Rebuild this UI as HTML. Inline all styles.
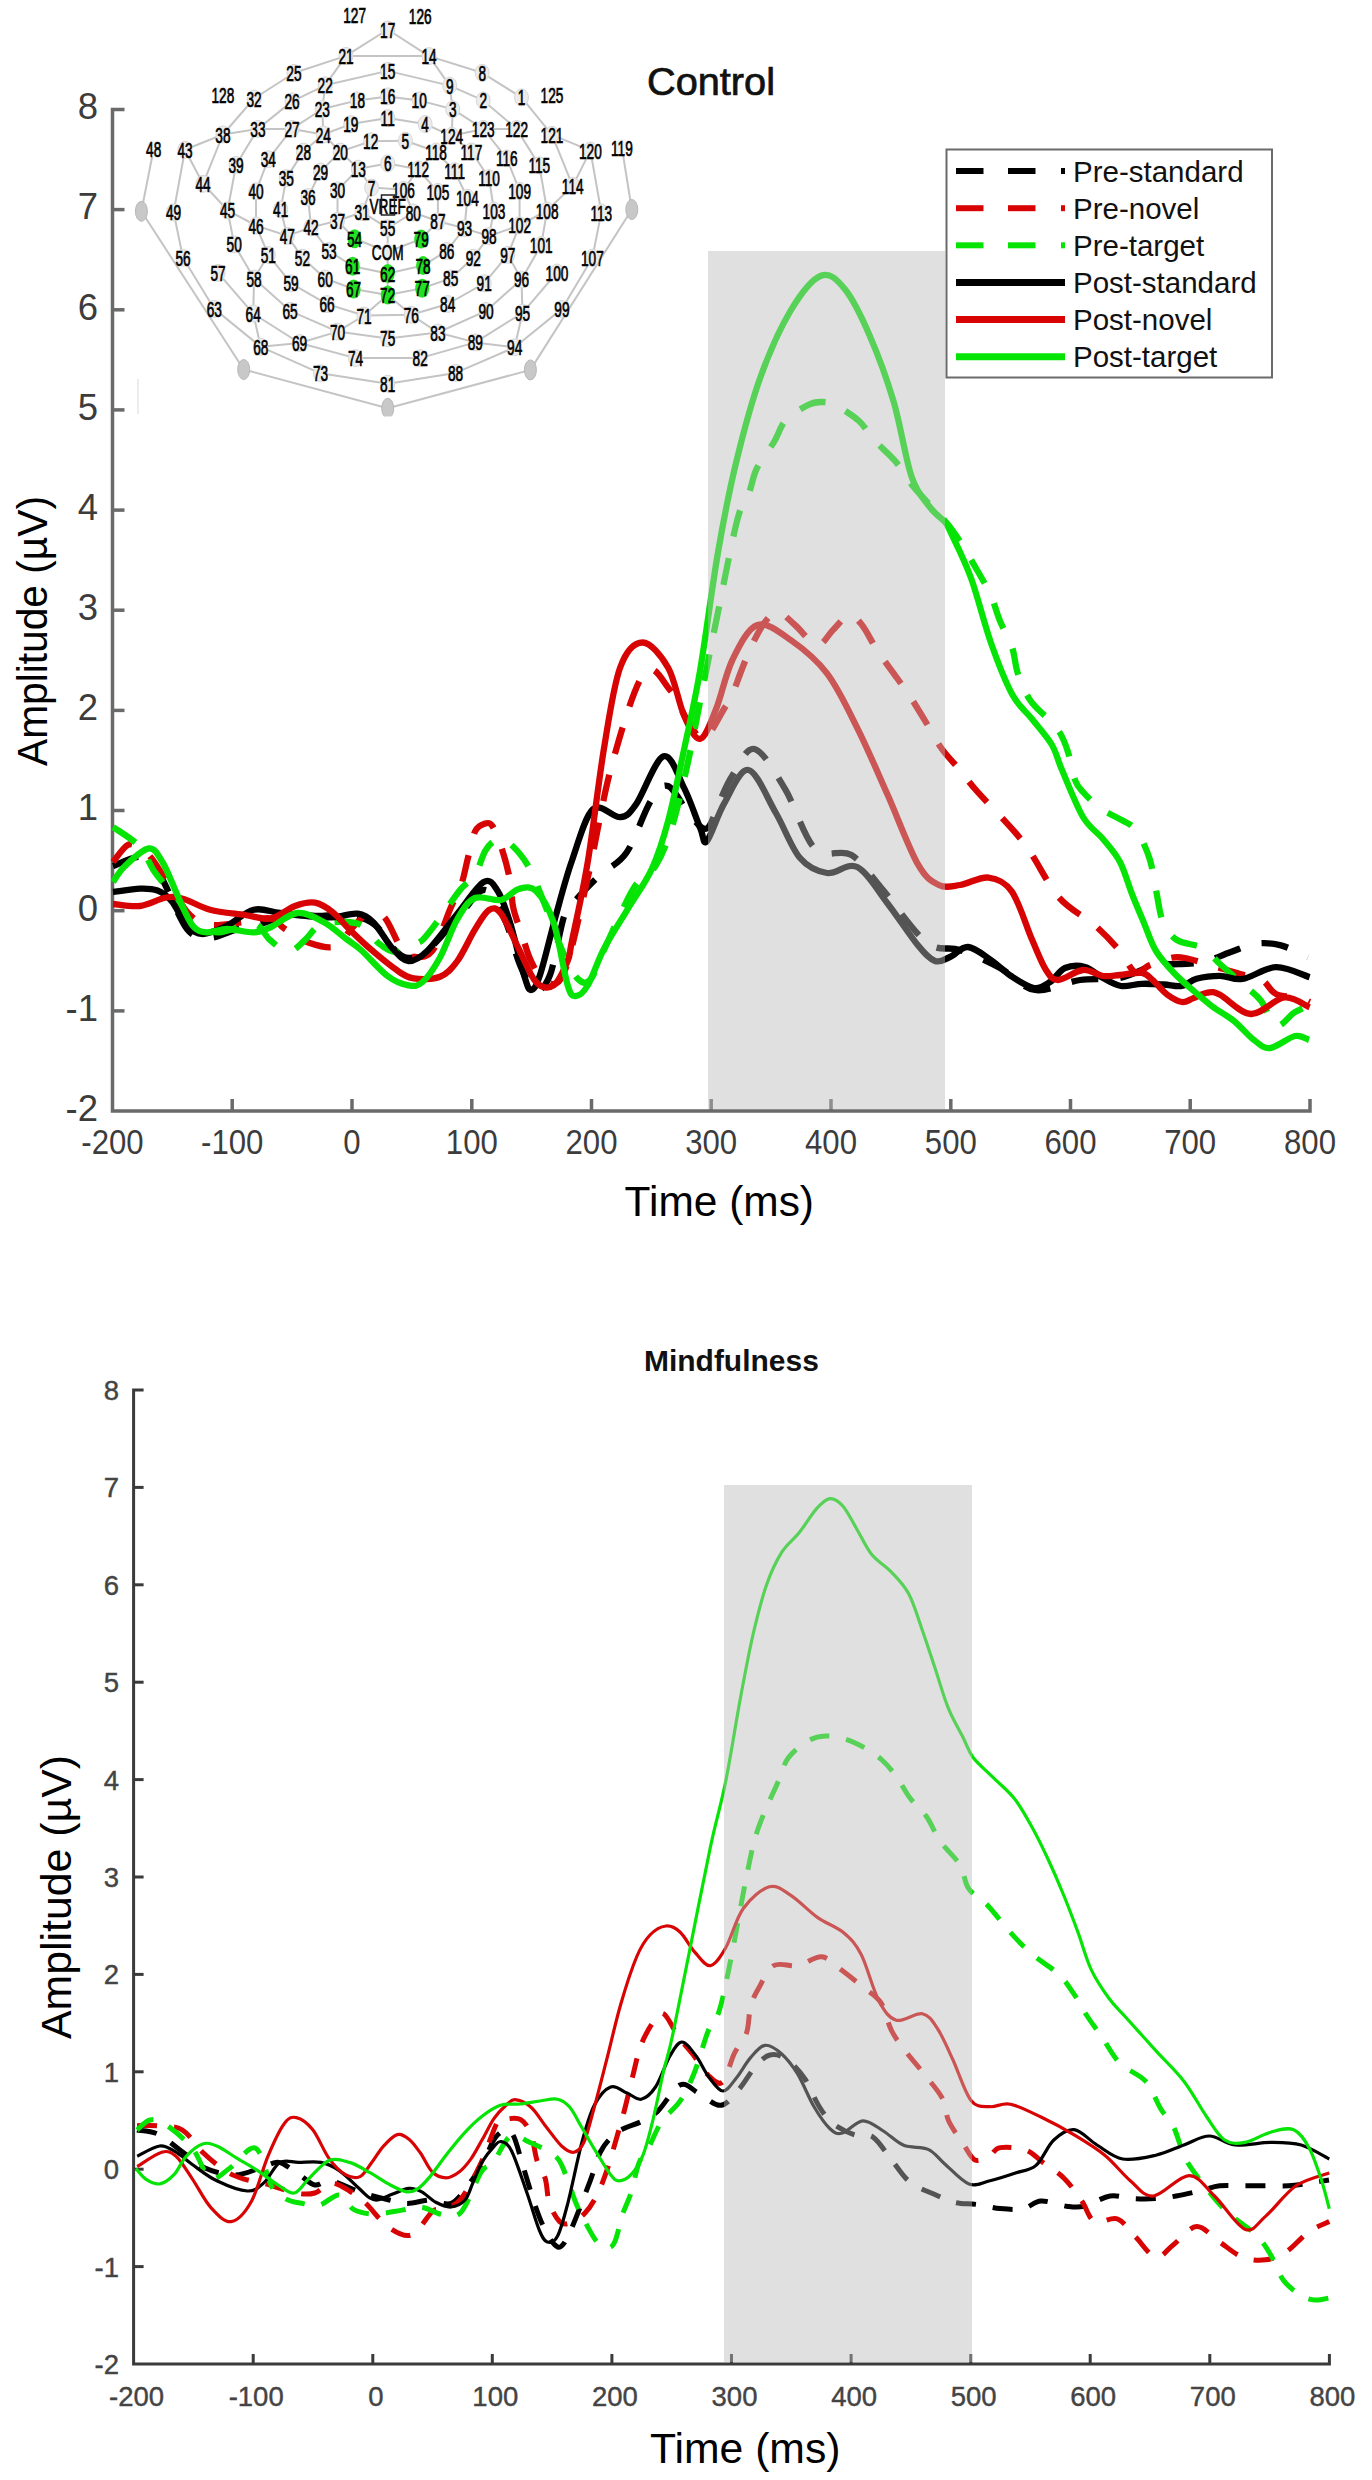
<!DOCTYPE html><html><head><meta charset="utf-8"><style>html,body{margin:0;padding:0;background:#fff;}svg{display:block;}</style></head><body>
<svg width="1372" height="2480" viewBox="0 0 1372 2480">
<rect width="100%" height="100%" fill="#fff"/>
<g stroke="#c4c4c4" stroke-width="2" fill="none">
<line x1="153.7" y1="148.8" x2="141.4" y2="211.3"/>
<line x1="141.4" y1="211.3" x2="243.7" y2="369.5"/>
<line x1="243.7" y1="369.5" x2="387.7" y2="408.3"/>
<line x1="387.7" y1="408.3" x2="530.4" y2="369.9"/>
<line x1="530.4" y1="369.9" x2="631.8" y2="209.5"/>
<line x1="631.8" y1="209.5" x2="621.9" y2="147.6"/>
<line x1="590.4" y1="150.6" x2="552.0" y2="134.8"/>
<line x1="552.0" y1="134.8" x2="521.5" y2="97.4"/>
<line x1="521.5" y1="97.4" x2="482.2" y2="72.8"/>
<line x1="482.2" y1="72.8" x2="429.0" y2="56.1"/>
<line x1="429.0" y1="56.1" x2="387.7" y2="29.5"/>
<line x1="387.7" y1="29.5" x2="346.0" y2="55.9"/>
<line x1="346.0" y1="55.9" x2="293.9" y2="73.0"/>
<line x1="293.9" y1="73.0" x2="254.1" y2="98.5"/>
<line x1="254.1" y1="98.5" x2="222.9" y2="134.5"/>
<line x1="222.9" y1="134.5" x2="185.0" y2="149.7"/>
<line x1="185.0" y1="149.7" x2="173.6" y2="212.2"/>
<line x1="173.6" y1="212.2" x2="183.0" y2="257.7"/>
<line x1="183.0" y1="257.7" x2="214.3" y2="308.9"/>
<line x1="214.3" y1="308.9" x2="260.8" y2="346.8"/>
<line x1="260.8" y1="346.8" x2="320.5" y2="373.3"/>
<line x1="320.5" y1="373.3" x2="387.7" y2="383.7"/>
<line x1="387.7" y1="383.7" x2="455.6" y2="372.9"/>
<line x1="455.6" y1="372.9" x2="514.7" y2="347.3"/>
<line x1="514.7" y1="347.3" x2="561.9" y2="308.9"/>
<line x1="561.9" y1="308.9" x2="592.4" y2="257.7"/>
<line x1="592.4" y1="257.7" x2="601.3" y2="212.5"/>
<line x1="601.3" y1="212.5" x2="590.4" y2="150.6"/>
<line x1="387.7" y1="70.9" x2="325.2" y2="85.3"/>
<line x1="325.2" y1="85.3" x2="292.0" y2="101.4"/>
<line x1="292.0" y1="101.4" x2="257.9" y2="128.9"/>
<line x1="257.9" y1="128.9" x2="236.1" y2="164.9"/>
<line x1="236.1" y1="164.9" x2="227.6" y2="210.3"/>
<line x1="227.6" y1="210.3" x2="234.2" y2="244.4"/>
<line x1="234.2" y1="244.4" x2="254.1" y2="278.5"/>
<line x1="254.1" y1="278.5" x2="290.1" y2="310.8"/>
<line x1="290.1" y1="310.8" x2="337.5" y2="331.6"/>
<line x1="337.5" y1="331.6" x2="387.7" y2="338.4"/>
<line x1="387.7" y1="338.4" x2="437.9" y2="332.5"/>
<line x1="437.9" y1="332.5" x2="486.1" y2="310.9"/>
<line x1="486.1" y1="310.9" x2="521.5" y2="279.4"/>
<line x1="521.5" y1="279.4" x2="541.2" y2="245.0"/>
<line x1="541.2" y1="245.0" x2="547.1" y2="210.5"/>
<line x1="547.1" y1="210.5" x2="539.3" y2="165.3"/>
<line x1="539.3" y1="165.3" x2="516.6" y2="128.9"/>
<line x1="516.6" y1="128.9" x2="483.2" y2="100.4"/>
<line x1="483.2" y1="100.4" x2="449.7" y2="85.6"/>
<line x1="449.7" y1="85.6" x2="387.7" y2="70.9"/>
<line x1="387.7" y1="96.4" x2="357.4" y2="100.4"/>
<line x1="357.4" y1="100.4" x2="322.3" y2="109.0"/>
<line x1="322.3" y1="109.0" x2="292.0" y2="128.9"/>
<line x1="292.0" y1="128.9" x2="268.3" y2="159.2"/>
<line x1="268.3" y1="159.2" x2="256.0" y2="191.4"/>
<line x1="256.0" y1="191.4" x2="256.0" y2="225.5"/>
<line x1="256.0" y1="225.5" x2="268.3" y2="254.9"/>
<line x1="268.3" y1="254.9" x2="291.0" y2="283.3"/>
<line x1="291.0" y1="283.3" x2="327.1" y2="304.1"/>
<line x1="327.1" y1="304.1" x2="364.0" y2="315.5"/>
<line x1="364.0" y1="315.5" x2="411.3" y2="314.8"/>
<line x1="411.3" y1="314.8" x2="447.7" y2="304.0"/>
<line x1="447.7" y1="304.0" x2="484.2" y2="283.3"/>
<line x1="484.2" y1="283.3" x2="507.8" y2="254.8"/>
<line x1="507.8" y1="254.8" x2="519.6" y2="225.3"/>
<line x1="519.6" y1="225.3" x2="519.6" y2="190.8"/>
<line x1="519.6" y1="190.8" x2="506.8" y2="158.4"/>
<line x1="506.8" y1="158.4" x2="483.2" y2="128.9"/>
<line x1="483.2" y1="128.9" x2="452.7" y2="109.2"/>
<line x1="452.7" y1="109.2" x2="419.2" y2="100.4"/>
<line x1="419.2" y1="100.4" x2="387.7" y2="96.4"/>
<line x1="387.7" y1="118.1" x2="350.8" y2="124.1"/>
<line x1="350.8" y1="124.1" x2="323.3" y2="134.5"/>
<line x1="323.3" y1="134.5" x2="303.4" y2="151.6"/>
<line x1="303.4" y1="151.6" x2="286.3" y2="178.1"/>
<line x1="286.3" y1="178.1" x2="280.7" y2="209.4"/>
<line x1="280.7" y1="209.4" x2="287.3" y2="235.9"/>
<line x1="287.3" y1="235.9" x2="302.4" y2="257.7"/>
<line x1="302.4" y1="257.7" x2="325.2" y2="278.5"/>
<line x1="325.2" y1="278.5" x2="353.6" y2="289.0"/>
<line x1="353.6" y1="289.0" x2="387.7" y2="295.1"/>
<line x1="387.7" y1="295.1" x2="422.2" y2="288.2"/>
<line x1="422.2" y1="288.2" x2="450.7" y2="278.4"/>
<line x1="450.7" y1="278.4" x2="473.3" y2="257.7"/>
<line x1="473.3" y1="257.7" x2="489.0" y2="236.1"/>
<line x1="489.0" y1="236.1" x2="494.0" y2="210.5"/>
<line x1="494.0" y1="210.5" x2="489.0" y2="178.1"/>
<line x1="489.0" y1="178.1" x2="471.4" y2="151.5"/>
<line x1="471.4" y1="151.5" x2="451.7" y2="135.8"/>
<line x1="451.7" y1="135.8" x2="425.1" y2="124.0"/>
<line x1="425.1" y1="124.0" x2="387.7" y2="118.1"/>
<line x1="370.7" y1="141.2" x2="340.3" y2="151.6"/>
<line x1="340.3" y1="151.6" x2="320.5" y2="171.5"/>
<line x1="320.5" y1="171.5" x2="308.1" y2="197.1"/>
<line x1="308.1" y1="197.1" x2="311.0" y2="227.4"/>
<line x1="311.0" y1="227.4" x2="329.0" y2="251.0"/>
<line x1="329.0" y1="251.0" x2="352.7" y2="266.2"/>
<line x1="352.7" y1="266.2" x2="387.7" y2="273.5"/>
<line x1="387.7" y1="273.5" x2="423.1" y2="265.6"/>
<line x1="423.1" y1="265.6" x2="446.8" y2="250.9"/>
<line x1="446.8" y1="250.9" x2="464.5" y2="228.2"/>
<line x1="464.5" y1="228.2" x2="467.4" y2="197.7"/>
<line x1="467.4" y1="197.7" x2="454.6" y2="171.2"/>
<line x1="454.6" y1="171.2" x2="436.0" y2="151.5"/>
<line x1="436.0" y1="151.5" x2="405.4" y2="140.7"/>
<line x1="405.4" y1="140.7" x2="370.7" y2="141.2"/>
<line x1="387.7" y1="163.4" x2="358.3" y2="168.7"/>
<line x1="358.3" y1="168.7" x2="337.5" y2="190.4"/>
<line x1="337.5" y1="190.4" x2="337.5" y2="220.7"/>
<line x1="337.5" y1="220.7" x2="354.6" y2="238.7"/>
<line x1="354.6" y1="238.7" x2="387.7" y2="251.8"/>
<line x1="387.7" y1="251.8" x2="421.2" y2="239.0"/>
<line x1="421.2" y1="239.0" x2="437.9" y2="221.3"/>
<line x1="437.9" y1="221.3" x2="437.9" y2="191.8"/>
<line x1="437.9" y1="191.8" x2="418.2" y2="169.3"/>
<line x1="418.2" y1="169.3" x2="387.7" y2="163.4"/>
<line x1="371.6" y1="187.6" x2="362.1" y2="212.2"/>
<line x1="362.1" y1="212.2" x2="387.7" y2="228.2"/>
<line x1="387.7" y1="228.2" x2="413.3" y2="212.5"/>
<line x1="413.3" y1="212.5" x2="403.5" y2="189.8"/>
<line x1="403.5" y1="189.8" x2="371.6" y2="187.6"/>
<line x1="346.0" y1="55.9" x2="429.0" y2="56.1"/>
<line x1="346.0" y1="55.9" x2="325.2" y2="85.3"/>
<line x1="325.2" y1="85.3" x2="322.3" y2="109.0"/>
<line x1="322.3" y1="109.0" x2="323.3" y2="134.5"/>
<line x1="323.3" y1="134.5" x2="340.3" y2="151.6"/>
<line x1="340.3" y1="151.6" x2="358.3" y2="168.7"/>
<line x1="358.3" y1="168.7" x2="371.6" y2="187.6"/>
<line x1="429.0" y1="56.1" x2="449.7" y2="85.6"/>
<line x1="449.7" y1="85.6" x2="452.7" y2="109.2"/>
<line x1="452.7" y1="109.2" x2="451.7" y2="135.8"/>
<line x1="451.7" y1="135.8" x2="436.0" y2="151.5"/>
<line x1="436.0" y1="151.5" x2="418.2" y2="169.3"/>
<line x1="418.2" y1="169.3" x2="403.5" y2="189.8"/>
<line x1="222.9" y1="134.5" x2="257.9" y2="128.9"/>
<line x1="257.9" y1="128.9" x2="292.0" y2="128.9"/>
<line x1="292.0" y1="128.9" x2="323.3" y2="134.5"/>
<line x1="516.6" y1="128.9" x2="483.2" y2="128.9"/>
<line x1="483.2" y1="128.9" x2="451.7" y2="135.8"/>
<line x1="222.9" y1="134.5" x2="203.0" y2="183.8"/>
<line x1="185.0" y1="149.7" x2="203.0" y2="183.8"/>
<line x1="203.0" y1="183.8" x2="227.6" y2="210.3"/>
<line x1="227.6" y1="210.3" x2="256.0" y2="225.5"/>
<line x1="256.0" y1="225.5" x2="287.3" y2="235.9"/>
<line x1="287.3" y1="235.9" x2="311.0" y2="227.4"/>
<line x1="311.0" y1="227.4" x2="337.5" y2="220.7"/>
<line x1="337.5" y1="220.7" x2="362.1" y2="212.2"/>
<line x1="590.4" y1="150.6" x2="572.7" y2="185.9"/>
<line x1="552.0" y1="134.8" x2="572.7" y2="185.9"/>
<line x1="572.7" y1="185.9" x2="547.1" y2="210.5"/>
<line x1="547.1" y1="210.5" x2="519.6" y2="225.3"/>
<line x1="519.6" y1="225.3" x2="489.0" y2="236.1"/>
<line x1="489.0" y1="236.1" x2="464.5" y2="228.2"/>
<line x1="464.5" y1="228.2" x2="437.9" y2="221.3"/>
<line x1="437.9" y1="221.3" x2="413.3" y2="212.5"/>
<line x1="268.3" y1="254.9" x2="254.1" y2="278.5"/>
<line x1="254.1" y1="278.5" x2="253.2" y2="313.6"/>
<line x1="253.2" y1="313.6" x2="260.8" y2="346.8"/>
<line x1="260.8" y1="346.8" x2="299.6" y2="343.0"/>
<line x1="299.6" y1="343.0" x2="337.5" y2="331.6"/>
<line x1="337.5" y1="331.6" x2="364.0" y2="315.5"/>
<line x1="364.0" y1="315.5" x2="387.7" y2="295.1"/>
<line x1="507.8" y1="254.8" x2="521.5" y2="279.4"/>
<line x1="521.5" y1="279.4" x2="522.5" y2="312.8"/>
<line x1="522.5" y1="312.8" x2="514.7" y2="347.3"/>
<line x1="514.7" y1="347.3" x2="475.3" y2="342.4"/>
<line x1="475.3" y1="342.4" x2="437.9" y2="332.5"/>
<line x1="437.9" y1="332.5" x2="411.3" y2="314.8"/>
<line x1="411.3" y1="314.8" x2="387.7" y2="295.1"/>
<line x1="218.1" y1="272.9" x2="253.2" y2="313.6"/>
<line x1="253.2" y1="313.6" x2="299.6" y2="343.0"/>
<line x1="299.6" y1="343.0" x2="355.5" y2="358.1"/>
<line x1="355.5" y1="358.1" x2="420.2" y2="358.1"/>
<line x1="420.2" y1="358.1" x2="475.3" y2="342.4"/>
<line x1="475.3" y1="342.4" x2="522.5" y2="312.8"/>
<line x1="522.5" y1="312.8" x2="557.0" y2="272.5"/>
<line x1="387.7" y1="228.2" x2="387.7" y2="251.8"/>
<line x1="387.7" y1="251.8" x2="387.7" y2="273.5"/>
<line x1="387.7" y1="273.5" x2="387.7" y2="295.1"/>
</g>
<g>
<ellipse cx="521.5" cy="97.4" rx="7" ry="8.5" fill="#ececec" stroke="#d8d8d8" stroke-width="1"/>
<ellipse cx="483.2" cy="100.4" rx="7" ry="8.5" fill="#ececec" stroke="#d8d8d8" stroke-width="1"/>
<ellipse cx="452.7" cy="109.2" rx="7" ry="8.5" fill="#ececec" stroke="#d8d8d8" stroke-width="1"/>
<ellipse cx="425.1" cy="124.0" rx="7" ry="8.5" fill="#ececec" stroke="#d8d8d8" stroke-width="1"/>
<ellipse cx="405.4" cy="140.7" rx="7" ry="8.5" fill="#ececec" stroke="#d8d8d8" stroke-width="1"/>
<ellipse cx="387.7" cy="163.4" rx="7" ry="8.5" fill="#ececec" stroke="#d8d8d8" stroke-width="1"/>
<ellipse cx="371.6" cy="187.6" rx="7" ry="8.5" fill="#ececec" stroke="#d8d8d8" stroke-width="1"/>
<ellipse cx="482.2" cy="72.8" rx="7" ry="8.5" fill="#ececec" stroke="#d8d8d8" stroke-width="1"/>
<ellipse cx="449.7" cy="85.6" rx="7" ry="8.5" fill="#ececec" stroke="#d8d8d8" stroke-width="1"/>
<ellipse cx="419.2" cy="100.4" rx="7" ry="8.5" fill="#ececec" stroke="#d8d8d8" stroke-width="1"/>
<ellipse cx="387.7" cy="118.1" rx="7" ry="8.5" fill="#ececec" stroke="#d8d8d8" stroke-width="1"/>
<ellipse cx="370.7" cy="141.2" rx="7" ry="8.5" fill="#ececec" stroke="#d8d8d8" stroke-width="1"/>
<ellipse cx="358.3" cy="168.7" rx="7" ry="8.5" fill="#ececec" stroke="#d8d8d8" stroke-width="1"/>
<ellipse cx="429.0" cy="56.1" rx="7" ry="8.5" fill="#ececec" stroke="#d8d8d8" stroke-width="1"/>
<ellipse cx="387.7" cy="70.9" rx="7" ry="8.5" fill="#ececec" stroke="#d8d8d8" stroke-width="1"/>
<ellipse cx="387.7" cy="96.4" rx="7" ry="8.5" fill="#ececec" stroke="#d8d8d8" stroke-width="1"/>
<ellipse cx="387.7" cy="29.5" rx="7" ry="8.5" fill="#ececec" stroke="#d8d8d8" stroke-width="1"/>
<ellipse cx="357.4" cy="100.4" rx="7" ry="8.5" fill="#ececec" stroke="#d8d8d8" stroke-width="1"/>
<ellipse cx="350.8" cy="124.1" rx="7" ry="8.5" fill="#ececec" stroke="#d8d8d8" stroke-width="1"/>
<ellipse cx="340.3" cy="151.6" rx="7" ry="8.5" fill="#ececec" stroke="#d8d8d8" stroke-width="1"/>
<ellipse cx="346.0" cy="55.9" rx="7" ry="8.5" fill="#ececec" stroke="#d8d8d8" stroke-width="1"/>
<ellipse cx="325.2" cy="85.3" rx="7" ry="8.5" fill="#ececec" stroke="#d8d8d8" stroke-width="1"/>
<ellipse cx="322.3" cy="109.0" rx="7" ry="8.5" fill="#ececec" stroke="#d8d8d8" stroke-width="1"/>
<ellipse cx="323.3" cy="134.5" rx="7" ry="8.5" fill="#ececec" stroke="#d8d8d8" stroke-width="1"/>
<ellipse cx="293.9" cy="73.0" rx="7" ry="8.5" fill="#ececec" stroke="#d8d8d8" stroke-width="1"/>
<ellipse cx="292.0" cy="101.4" rx="7" ry="8.5" fill="#ececec" stroke="#d8d8d8" stroke-width="1"/>
<ellipse cx="292.0" cy="128.9" rx="7" ry="8.5" fill="#ececec" stroke="#d8d8d8" stroke-width="1"/>
<ellipse cx="303.4" cy="151.6" rx="7" ry="8.5" fill="#ececec" stroke="#d8d8d8" stroke-width="1"/>
<ellipse cx="320.5" cy="171.5" rx="7" ry="8.5" fill="#ececec" stroke="#d8d8d8" stroke-width="1"/>
<ellipse cx="337.5" cy="190.4" rx="7" ry="8.5" fill="#ececec" stroke="#d8d8d8" stroke-width="1"/>
<ellipse cx="362.1" cy="212.2" rx="7" ry="8.5" fill="#ececec" stroke="#d8d8d8" stroke-width="1"/>
<ellipse cx="254.1" cy="98.5" rx="7" ry="8.5" fill="#ececec" stroke="#d8d8d8" stroke-width="1"/>
<ellipse cx="257.9" cy="128.9" rx="7" ry="8.5" fill="#ececec" stroke="#d8d8d8" stroke-width="1"/>
<ellipse cx="268.3" cy="159.2" rx="7" ry="8.5" fill="#ececec" stroke="#d8d8d8" stroke-width="1"/>
<ellipse cx="286.3" cy="178.1" rx="7" ry="8.5" fill="#ececec" stroke="#d8d8d8" stroke-width="1"/>
<ellipse cx="308.1" cy="197.1" rx="7" ry="8.5" fill="#ececec" stroke="#d8d8d8" stroke-width="1"/>
<ellipse cx="337.5" cy="220.7" rx="7" ry="8.5" fill="#ececec" stroke="#d8d8d8" stroke-width="1"/>
<ellipse cx="222.9" cy="134.5" rx="7" ry="8.5" fill="#ececec" stroke="#d8d8d8" stroke-width="1"/>
<ellipse cx="236.1" cy="164.9" rx="7" ry="8.5" fill="#ececec" stroke="#d8d8d8" stroke-width="1"/>
<ellipse cx="256.0" cy="191.4" rx="7" ry="8.5" fill="#ececec" stroke="#d8d8d8" stroke-width="1"/>
<ellipse cx="280.7" cy="209.4" rx="7" ry="8.5" fill="#ececec" stroke="#d8d8d8" stroke-width="1"/>
<ellipse cx="311.0" cy="227.4" rx="7" ry="8.5" fill="#ececec" stroke="#d8d8d8" stroke-width="1"/>
<ellipse cx="185.0" cy="149.7" rx="7" ry="8.5" fill="#ececec" stroke="#d8d8d8" stroke-width="1"/>
<ellipse cx="203.0" cy="183.8" rx="7" ry="8.5" fill="#ececec" stroke="#d8d8d8" stroke-width="1"/>
<ellipse cx="227.6" cy="210.3" rx="7" ry="8.5" fill="#ececec" stroke="#d8d8d8" stroke-width="1"/>
<ellipse cx="256.0" cy="225.5" rx="7" ry="8.5" fill="#ececec" stroke="#d8d8d8" stroke-width="1"/>
<ellipse cx="287.3" cy="235.9" rx="7" ry="8.5" fill="#ececec" stroke="#d8d8d8" stroke-width="1"/>
<ellipse cx="153.7" cy="148.8" rx="7" ry="8.5" fill="#f4f4f4"/>
<ellipse cx="173.6" cy="212.2" rx="7" ry="8.5" fill="#ececec" stroke="#d8d8d8" stroke-width="1"/>
<ellipse cx="234.2" cy="244.4" rx="7" ry="8.5" fill="#ececec" stroke="#d8d8d8" stroke-width="1"/>
<ellipse cx="268.3" cy="254.9" rx="7" ry="8.5" fill="#ececec" stroke="#d8d8d8" stroke-width="1"/>
<ellipse cx="302.4" cy="257.7" rx="7" ry="8.5" fill="#ececec" stroke="#d8d8d8" stroke-width="1"/>
<ellipse cx="329.0" cy="251.0" rx="7" ry="8.5" fill="#ececec" stroke="#d8d8d8" stroke-width="1"/>
<ellipse cx="354.6" cy="238.7" rx="7" ry="9.5" fill="#22e022"/>
<ellipse cx="387.7" cy="228.2" rx="7" ry="8.5" fill="#ececec" stroke="#d8d8d8" stroke-width="1"/>
<ellipse cx="183.0" cy="257.7" rx="7" ry="8.5" fill="#ececec" stroke="#d8d8d8" stroke-width="1"/>
<ellipse cx="218.1" cy="272.9" rx="7" ry="8.5" fill="#ececec" stroke="#d8d8d8" stroke-width="1"/>
<ellipse cx="254.1" cy="278.5" rx="7" ry="8.5" fill="#ececec" stroke="#d8d8d8" stroke-width="1"/>
<ellipse cx="291.0" cy="283.3" rx="7" ry="8.5" fill="#ececec" stroke="#d8d8d8" stroke-width="1"/>
<ellipse cx="325.2" cy="278.5" rx="7" ry="8.5" fill="#ececec" stroke="#d8d8d8" stroke-width="1"/>
<ellipse cx="352.7" cy="266.2" rx="7" ry="9.5" fill="#22e022"/>
<ellipse cx="387.7" cy="273.5" rx="7" ry="9.5" fill="#22e022"/>
<ellipse cx="214.3" cy="308.9" rx="7" ry="8.5" fill="#ececec" stroke="#d8d8d8" stroke-width="1"/>
<ellipse cx="253.2" cy="313.6" rx="7" ry="8.5" fill="#ececec" stroke="#d8d8d8" stroke-width="1"/>
<ellipse cx="290.1" cy="310.8" rx="7" ry="8.5" fill="#ececec" stroke="#d8d8d8" stroke-width="1"/>
<ellipse cx="327.1" cy="304.1" rx="7" ry="8.5" fill="#ececec" stroke="#d8d8d8" stroke-width="1"/>
<ellipse cx="353.6" cy="289.0" rx="7" ry="9.5" fill="#22e022"/>
<ellipse cx="260.8" cy="346.8" rx="7" ry="8.5" fill="#ececec" stroke="#d8d8d8" stroke-width="1"/>
<ellipse cx="299.6" cy="343.0" rx="7" ry="8.5" fill="#ececec" stroke="#d8d8d8" stroke-width="1"/>
<ellipse cx="337.5" cy="331.6" rx="7" ry="8.5" fill="#ececec" stroke="#d8d8d8" stroke-width="1"/>
<ellipse cx="364.0" cy="315.5" rx="7" ry="8.5" fill="#ececec" stroke="#d8d8d8" stroke-width="1"/>
<ellipse cx="387.7" cy="295.1" rx="7" ry="9.5" fill="#22e022"/>
<ellipse cx="320.5" cy="373.3" rx="7" ry="8.5" fill="#ececec" stroke="#d8d8d8" stroke-width="1"/>
<ellipse cx="355.5" cy="358.1" rx="7" ry="8.5" fill="#ececec" stroke="#d8d8d8" stroke-width="1"/>
<ellipse cx="387.7" cy="338.4" rx="7" ry="8.5" fill="#ececec" stroke="#d8d8d8" stroke-width="1"/>
<ellipse cx="411.3" cy="314.8" rx="7" ry="8.5" fill="#ececec" stroke="#d8d8d8" stroke-width="1"/>
<ellipse cx="422.2" cy="288.2" rx="7" ry="9.5" fill="#22e022"/>
<ellipse cx="423.1" cy="265.6" rx="7" ry="9.5" fill="#22e022"/>
<ellipse cx="421.2" cy="239.0" rx="7" ry="9.5" fill="#22e022"/>
<ellipse cx="413.3" cy="212.5" rx="7" ry="8.5" fill="#ececec" stroke="#d8d8d8" stroke-width="1"/>
<ellipse cx="387.7" cy="383.7" rx="7" ry="8.5" fill="#ececec" stroke="#d8d8d8" stroke-width="1"/>
<ellipse cx="420.2" cy="358.1" rx="7" ry="8.5" fill="#ececec" stroke="#d8d8d8" stroke-width="1"/>
<ellipse cx="437.9" cy="332.5" rx="7" ry="8.5" fill="#ececec" stroke="#d8d8d8" stroke-width="1"/>
<ellipse cx="447.7" cy="304.0" rx="7" ry="8.5" fill="#ececec" stroke="#d8d8d8" stroke-width="1"/>
<ellipse cx="450.7" cy="278.4" rx="7" ry="8.5" fill="#ececec" stroke="#d8d8d8" stroke-width="1"/>
<ellipse cx="446.8" cy="250.9" rx="7" ry="8.5" fill="#ececec" stroke="#d8d8d8" stroke-width="1"/>
<ellipse cx="437.9" cy="221.3" rx="7" ry="8.5" fill="#ececec" stroke="#d8d8d8" stroke-width="1"/>
<ellipse cx="455.6" cy="372.9" rx="7" ry="8.5" fill="#ececec" stroke="#d8d8d8" stroke-width="1"/>
<ellipse cx="475.3" cy="342.4" rx="7" ry="8.5" fill="#ececec" stroke="#d8d8d8" stroke-width="1"/>
<ellipse cx="486.1" cy="310.9" rx="7" ry="8.5" fill="#ececec" stroke="#d8d8d8" stroke-width="1"/>
<ellipse cx="484.2" cy="283.3" rx="7" ry="8.5" fill="#ececec" stroke="#d8d8d8" stroke-width="1"/>
<ellipse cx="473.3" cy="257.7" rx="7" ry="8.5" fill="#ececec" stroke="#d8d8d8" stroke-width="1"/>
<ellipse cx="464.5" cy="228.2" rx="7" ry="8.5" fill="#ececec" stroke="#d8d8d8" stroke-width="1"/>
<ellipse cx="514.7" cy="347.3" rx="7" ry="8.5" fill="#ececec" stroke="#d8d8d8" stroke-width="1"/>
<ellipse cx="522.5" cy="312.8" rx="7" ry="8.5" fill="#ececec" stroke="#d8d8d8" stroke-width="1"/>
<ellipse cx="521.5" cy="279.4" rx="7" ry="8.5" fill="#ececec" stroke="#d8d8d8" stroke-width="1"/>
<ellipse cx="507.8" cy="254.8" rx="7" ry="8.5" fill="#ececec" stroke="#d8d8d8" stroke-width="1"/>
<ellipse cx="489.0" cy="236.1" rx="7" ry="8.5" fill="#ececec" stroke="#d8d8d8" stroke-width="1"/>
<ellipse cx="561.9" cy="308.9" rx="7" ry="8.5" fill="#ececec" stroke="#d8d8d8" stroke-width="1"/>
<ellipse cx="557.0" cy="272.5" rx="7" ry="8.5" fill="#ececec" stroke="#d8d8d8" stroke-width="1"/>
<ellipse cx="541.2" cy="245.0" rx="7" ry="8.5" fill="#ececec" stroke="#d8d8d8" stroke-width="1"/>
<ellipse cx="519.6" cy="225.3" rx="7" ry="8.5" fill="#ececec" stroke="#d8d8d8" stroke-width="1"/>
<ellipse cx="494.0" cy="210.5" rx="7" ry="8.5" fill="#ececec" stroke="#d8d8d8" stroke-width="1"/>
<ellipse cx="467.4" cy="197.7" rx="7" ry="8.5" fill="#ececec" stroke="#d8d8d8" stroke-width="1"/>
<ellipse cx="437.9" cy="191.8" rx="7" ry="8.5" fill="#ececec" stroke="#d8d8d8" stroke-width="1"/>
<ellipse cx="403.5" cy="189.8" rx="7" ry="8.5" fill="#ececec" stroke="#d8d8d8" stroke-width="1"/>
<ellipse cx="592.4" cy="257.7" rx="7" ry="8.5" fill="#ececec" stroke="#d8d8d8" stroke-width="1"/>
<ellipse cx="547.1" cy="210.5" rx="7" ry="8.5" fill="#ececec" stroke="#d8d8d8" stroke-width="1"/>
<ellipse cx="519.6" cy="190.8" rx="7" ry="8.5" fill="#ececec" stroke="#d8d8d8" stroke-width="1"/>
<ellipse cx="489.0" cy="178.1" rx="7" ry="8.5" fill="#ececec" stroke="#d8d8d8" stroke-width="1"/>
<ellipse cx="454.6" cy="171.2" rx="7" ry="8.5" fill="#ececec" stroke="#d8d8d8" stroke-width="1"/>
<ellipse cx="418.2" cy="169.3" rx="7" ry="8.5" fill="#ececec" stroke="#d8d8d8" stroke-width="1"/>
<ellipse cx="601.3" cy="212.5" rx="7" ry="8.5" fill="#ececec" stroke="#d8d8d8" stroke-width="1"/>
<ellipse cx="572.7" cy="185.9" rx="7" ry="8.5" fill="#ececec" stroke="#d8d8d8" stroke-width="1"/>
<ellipse cx="539.3" cy="165.3" rx="7" ry="8.5" fill="#ececec" stroke="#d8d8d8" stroke-width="1"/>
<ellipse cx="506.8" cy="158.4" rx="7" ry="8.5" fill="#ececec" stroke="#d8d8d8" stroke-width="1"/>
<ellipse cx="471.4" cy="151.5" rx="7" ry="8.5" fill="#ececec" stroke="#d8d8d8" stroke-width="1"/>
<ellipse cx="436.0" cy="151.5" rx="7" ry="8.5" fill="#ececec" stroke="#d8d8d8" stroke-width="1"/>
<ellipse cx="621.9" cy="147.6" rx="7" ry="8.5" fill="#f4f4f4"/>
<ellipse cx="590.4" cy="150.6" rx="7" ry="8.5" fill="#ececec" stroke="#d8d8d8" stroke-width="1"/>
<ellipse cx="552.0" cy="134.8" rx="7" ry="8.5" fill="#ececec" stroke="#d8d8d8" stroke-width="1"/>
<ellipse cx="516.6" cy="128.9" rx="7" ry="8.5" fill="#ececec" stroke="#d8d8d8" stroke-width="1"/>
<ellipse cx="483.2" cy="128.9" rx="7" ry="8.5" fill="#ececec" stroke="#d8d8d8" stroke-width="1"/>
<ellipse cx="451.7" cy="135.8" rx="7" ry="8.5" fill="#ececec" stroke="#d8d8d8" stroke-width="1"/>
<ellipse cx="552.0" cy="94.5" rx="7" ry="8.5" fill="#f4f4f4"/>
<ellipse cx="420.2" cy="15.7" rx="7" ry="8.5" fill="#f4f4f4"/>
<ellipse cx="354.6" cy="15.2" rx="7" ry="8.5" fill="#f4f4f4"/>
<ellipse cx="222.9" cy="94.8" rx="7" ry="8.5" fill="#f4f4f4"/>
<ellipse cx="141.4" cy="211.3" rx="6" ry="10" fill="#c8c8c8" stroke="#b8b8b8" stroke-width="1"/>
<ellipse cx="631.8" cy="209.5" rx="6" ry="10" fill="#c8c8c8" stroke="#b8b8b8" stroke-width="1"/>
<ellipse cx="243.7" cy="369.5" rx="6" ry="10" fill="#c8c8c8" stroke="#b8b8b8" stroke-width="1"/>
<ellipse cx="530.4" cy="369.9" rx="6" ry="10" fill="#c8c8c8" stroke="#b8b8b8" stroke-width="1"/>
<ellipse cx="387.7" cy="408.3" rx="6" ry="10" fill="#c8c8c8" stroke="#b8b8b8" stroke-width="1"/>
<ellipse cx="387.7" cy="251.8" rx="7" ry="8.5" fill="#ececec"/>
</g>
<g font-family="Liberation Sans" font-size="22" fill="#000" stroke="#000" stroke-width="0.7" text-anchor="middle">
<text transform="translate(521.5,105.4) scale(0.62,1)" x="0" y="0">1</text>
<text transform="translate(483.2,108.4) scale(0.62,1)" x="0" y="0">2</text>
<text transform="translate(452.7,117.2) scale(0.62,1)" x="0" y="0">3</text>
<text transform="translate(425.1,132.0) scale(0.62,1)" x="0" y="0">4</text>
<text transform="translate(405.4,148.7) scale(0.62,1)" x="0" y="0">5</text>
<text transform="translate(387.7,171.4) scale(0.62,1)" x="0" y="0">6</text>
<text transform="translate(371.6,195.6) scale(0.62,1)" x="0" y="0">7</text>
<text transform="translate(482.2,80.8) scale(0.62,1)" x="0" y="0">8</text>
<text transform="translate(449.7,93.6) scale(0.62,1)" x="0" y="0">9</text>
<text transform="translate(419.2,108.4) scale(0.62,1)" x="0" y="0">10</text>
<text transform="translate(387.7,126.1) scale(0.62,1)" x="0" y="0">11</text>
<text transform="translate(370.7,149.2) scale(0.62,1)" x="0" y="0">12</text>
<text transform="translate(358.3,176.7) scale(0.62,1)" x="0" y="0">13</text>
<text transform="translate(429.0,64.1) scale(0.62,1)" x="0" y="0">14</text>
<text transform="translate(387.7,78.9) scale(0.62,1)" x="0" y="0">15</text>
<text transform="translate(387.7,104.4) scale(0.62,1)" x="0" y="0">16</text>
<text transform="translate(387.7,37.5) scale(0.62,1)" x="0" y="0">17</text>
<text transform="translate(357.4,108.4) scale(0.62,1)" x="0" y="0">18</text>
<text transform="translate(350.8,132.1) scale(0.62,1)" x="0" y="0">19</text>
<text transform="translate(340.3,159.6) scale(0.62,1)" x="0" y="0">20</text>
<text transform="translate(346.0,63.9) scale(0.62,1)" x="0" y="0">21</text>
<text transform="translate(325.2,93.3) scale(0.62,1)" x="0" y="0">22</text>
<text transform="translate(322.3,117.0) scale(0.62,1)" x="0" y="0">23</text>
<text transform="translate(323.3,142.5) scale(0.62,1)" x="0" y="0">24</text>
<text transform="translate(293.9,81.0) scale(0.62,1)" x="0" y="0">25</text>
<text transform="translate(292.0,109.4) scale(0.62,1)" x="0" y="0">26</text>
<text transform="translate(292.0,136.9) scale(0.62,1)" x="0" y="0">27</text>
<text transform="translate(303.4,159.6) scale(0.62,1)" x="0" y="0">28</text>
<text transform="translate(320.5,179.5) scale(0.62,1)" x="0" y="0">29</text>
<text transform="translate(337.5,198.4) scale(0.62,1)" x="0" y="0">30</text>
<text transform="translate(362.1,220.2) scale(0.62,1)" x="0" y="0">31</text>
<text transform="translate(254.1,106.5) scale(0.62,1)" x="0" y="0">32</text>
<text transform="translate(257.9,136.9) scale(0.62,1)" x="0" y="0">33</text>
<text transform="translate(268.3,167.2) scale(0.62,1)" x="0" y="0">34</text>
<text transform="translate(286.3,186.1) scale(0.62,1)" x="0" y="0">35</text>
<text transform="translate(308.1,205.1) scale(0.62,1)" x="0" y="0">36</text>
<text transform="translate(337.5,228.7) scale(0.62,1)" x="0" y="0">37</text>
<text transform="translate(222.9,142.5) scale(0.62,1)" x="0" y="0">38</text>
<text transform="translate(236.1,172.9) scale(0.62,1)" x="0" y="0">39</text>
<text transform="translate(256.0,199.4) scale(0.62,1)" x="0" y="0">40</text>
<text transform="translate(280.7,217.4) scale(0.62,1)" x="0" y="0">41</text>
<text transform="translate(311.0,235.4) scale(0.62,1)" x="0" y="0">42</text>
<text transform="translate(185.0,157.7) scale(0.62,1)" x="0" y="0">43</text>
<text transform="translate(203.0,191.8) scale(0.62,1)" x="0" y="0">44</text>
<text transform="translate(227.6,218.3) scale(0.62,1)" x="0" y="0">45</text>
<text transform="translate(256.0,233.5) scale(0.62,1)" x="0" y="0">46</text>
<text transform="translate(287.3,243.9) scale(0.62,1)" x="0" y="0">47</text>
<text transform="translate(153.7,156.8) scale(0.62,1)" x="0" y="0">48</text>
<text transform="translate(173.6,220.2) scale(0.62,1)" x="0" y="0">49</text>
<text transform="translate(234.2,252.4) scale(0.62,1)" x="0" y="0">50</text>
<text transform="translate(268.3,262.9) scale(0.62,1)" x="0" y="0">51</text>
<text transform="translate(302.4,265.7) scale(0.62,1)" x="0" y="0">52</text>
<text transform="translate(329.0,259.0) scale(0.62,1)" x="0" y="0">53</text>
<text transform="translate(354.6,246.7) scale(0.62,1)" x="0" y="0">54</text>
<text transform="translate(387.7,236.2) scale(0.62,1)" x="0" y="0">55</text>
<text transform="translate(183.0,265.7) scale(0.62,1)" x="0" y="0">56</text>
<text transform="translate(218.1,280.9) scale(0.62,1)" x="0" y="0">57</text>
<text transform="translate(254.1,286.5) scale(0.62,1)" x="0" y="0">58</text>
<text transform="translate(291.0,291.3) scale(0.62,1)" x="0" y="0">59</text>
<text transform="translate(325.2,286.5) scale(0.62,1)" x="0" y="0">60</text>
<text transform="translate(352.7,274.2) scale(0.62,1)" x="0" y="0">61</text>
<text transform="translate(387.7,281.5) scale(0.62,1)" x="0" y="0">62</text>
<text transform="translate(214.3,316.9) scale(0.62,1)" x="0" y="0">63</text>
<text transform="translate(253.2,321.6) scale(0.62,1)" x="0" y="0">64</text>
<text transform="translate(290.1,318.8) scale(0.62,1)" x="0" y="0">65</text>
<text transform="translate(327.1,312.1) scale(0.62,1)" x="0" y="0">66</text>
<text transform="translate(353.6,297.0) scale(0.62,1)" x="0" y="0">67</text>
<text transform="translate(260.8,354.8) scale(0.62,1)" x="0" y="0">68</text>
<text transform="translate(299.6,351.0) scale(0.62,1)" x="0" y="0">69</text>
<text transform="translate(337.5,339.6) scale(0.62,1)" x="0" y="0">70</text>
<text transform="translate(364.0,323.5) scale(0.62,1)" x="0" y="0">71</text>
<text transform="translate(387.7,303.1) scale(0.62,1)" x="0" y="0">72</text>
<text transform="translate(320.5,381.3) scale(0.62,1)" x="0" y="0">73</text>
<text transform="translate(355.5,366.1) scale(0.62,1)" x="0" y="0">74</text>
<text transform="translate(387.7,346.4) scale(0.62,1)" x="0" y="0">75</text>
<text transform="translate(411.3,322.8) scale(0.62,1)" x="0" y="0">76</text>
<text transform="translate(422.2,296.2) scale(0.62,1)" x="0" y="0">77</text>
<text transform="translate(423.1,273.6) scale(0.62,1)" x="0" y="0">78</text>
<text transform="translate(421.2,247.0) scale(0.62,1)" x="0" y="0">79</text>
<text transform="translate(413.3,220.5) scale(0.62,1)" x="0" y="0">80</text>
<text transform="translate(387.7,391.7) scale(0.62,1)" x="0" y="0">81</text>
<text transform="translate(420.2,366.1) scale(0.62,1)" x="0" y="0">82</text>
<text transform="translate(437.9,340.5) scale(0.62,1)" x="0" y="0">83</text>
<text transform="translate(447.7,312.0) scale(0.62,1)" x="0" y="0">84</text>
<text transform="translate(450.7,286.4) scale(0.62,1)" x="0" y="0">85</text>
<text transform="translate(446.8,258.9) scale(0.62,1)" x="0" y="0">86</text>
<text transform="translate(437.9,229.3) scale(0.62,1)" x="0" y="0">87</text>
<text transform="translate(455.6,380.9) scale(0.62,1)" x="0" y="0">88</text>
<text transform="translate(475.3,350.4) scale(0.62,1)" x="0" y="0">89</text>
<text transform="translate(486.1,318.9) scale(0.62,1)" x="0" y="0">90</text>
<text transform="translate(484.2,291.3) scale(0.62,1)" x="0" y="0">91</text>
<text transform="translate(473.3,265.7) scale(0.62,1)" x="0" y="0">92</text>
<text transform="translate(464.5,236.2) scale(0.62,1)" x="0" y="0">93</text>
<text transform="translate(514.7,355.3) scale(0.62,1)" x="0" y="0">94</text>
<text transform="translate(522.5,320.8) scale(0.62,1)" x="0" y="0">95</text>
<text transform="translate(521.5,287.4) scale(0.62,1)" x="0" y="0">96</text>
<text transform="translate(507.8,262.8) scale(0.62,1)" x="0" y="0">97</text>
<text transform="translate(489.0,244.1) scale(0.62,1)" x="0" y="0">98</text>
<text transform="translate(561.9,316.9) scale(0.62,1)" x="0" y="0">99</text>
<text transform="translate(557.0,280.5) scale(0.62,1)" x="0" y="0">100</text>
<text transform="translate(541.2,253.0) scale(0.62,1)" x="0" y="0">101</text>
<text transform="translate(519.6,233.3) scale(0.62,1)" x="0" y="0">102</text>
<text transform="translate(494.0,218.5) scale(0.62,1)" x="0" y="0">103</text>
<text transform="translate(467.4,205.7) scale(0.62,1)" x="0" y="0">104</text>
<text transform="translate(437.9,199.8) scale(0.62,1)" x="0" y="0">105</text>
<text transform="translate(403.5,197.8) scale(0.62,1)" x="0" y="0">106</text>
<text transform="translate(592.4,265.7) scale(0.62,1)" x="0" y="0">107</text>
<text transform="translate(547.1,218.5) scale(0.62,1)" x="0" y="0">108</text>
<text transform="translate(519.6,198.8) scale(0.62,1)" x="0" y="0">109</text>
<text transform="translate(489.0,186.1) scale(0.62,1)" x="0" y="0">110</text>
<text transform="translate(454.6,179.2) scale(0.62,1)" x="0" y="0">111</text>
<text transform="translate(418.2,177.3) scale(0.62,1)" x="0" y="0">112</text>
<text transform="translate(601.3,220.5) scale(0.62,1)" x="0" y="0">113</text>
<text transform="translate(572.7,193.9) scale(0.62,1)" x="0" y="0">114</text>
<text transform="translate(539.3,173.3) scale(0.62,1)" x="0" y="0">115</text>
<text transform="translate(506.8,166.4) scale(0.62,1)" x="0" y="0">116</text>
<text transform="translate(471.4,159.5) scale(0.62,1)" x="0" y="0">117</text>
<text transform="translate(436.0,159.5) scale(0.62,1)" x="0" y="0">118</text>
<text transform="translate(621.9,155.6) scale(0.62,1)" x="0" y="0">119</text>
<text transform="translate(590.4,158.6) scale(0.62,1)" x="0" y="0">120</text>
<text transform="translate(552.0,142.8) scale(0.62,1)" x="0" y="0">121</text>
<text transform="translate(516.6,136.9) scale(0.62,1)" x="0" y="0">122</text>
<text transform="translate(483.2,136.9) scale(0.62,1)" x="0" y="0">123</text>
<text transform="translate(451.7,143.8) scale(0.62,1)" x="0" y="0">124</text>
<text transform="translate(552.0,102.5) scale(0.62,1)" x="0" y="0">125</text>
<text transform="translate(420.2,23.7) scale(0.62,1)" x="0" y="0">126</text>
<text transform="translate(354.6,23.2) scale(0.62,1)" x="0" y="0">127</text>
<text transform="translate(222.9,102.8) scale(0.62,1)" x="0" y="0">128</text>
<text transform="translate(387.7,213.6) scale(0.62,1)">VREF</text>
<text transform="translate(387.7,259.8) scale(0.62,1)">COM</text>
</g>
<rect x="381.5" y="195" width="13" height="20" fill="none" stroke="#222" stroke-width="1.5"/>
<rect x="0" y="416.5" width="640" height="6" fill="#fff"/>
<line x1="138" y1="379" x2="138" y2="414" stroke="#e6e6e6" stroke-width="1.5"/>
<g stroke="#6a6a6a" stroke-width="3.5" fill="none" stroke-linecap="butt">
<path d="M124.5,109.5 H112.5 V1111.0 H1310.0 V1099.0"/>
<line x1="112.5" y1="1010.9" x2="124.5" y2="1010.9"/>
<line x1="112.5" y1="910.7" x2="124.5" y2="910.7"/>
<line x1="112.5" y1="810.5" x2="124.5" y2="810.5"/>
<line x1="112.5" y1="710.4" x2="124.5" y2="710.4"/>
<line x1="112.5" y1="610.2" x2="124.5" y2="610.2"/>
<line x1="112.5" y1="510.1" x2="124.5" y2="510.1"/>
<line x1="112.5" y1="409.9" x2="124.5" y2="409.9"/>
<line x1="112.5" y1="309.8" x2="124.5" y2="309.8"/>
<line x1="112.5" y1="209.6" x2="124.5" y2="209.6"/>
<line x1="232.2" y1="1111.0" x2="232.2" y2="1099.0"/>
<line x1="352.0" y1="1111.0" x2="352.0" y2="1099.0"/>
<line x1="471.8" y1="1111.0" x2="471.8" y2="1099.0"/>
<line x1="591.5" y1="1111.0" x2="591.5" y2="1099.0"/>
<line x1="711.2" y1="1111.0" x2="711.2" y2="1099.0"/>
<line x1="831.0" y1="1111.0" x2="831.0" y2="1099.0"/>
<line x1="950.8" y1="1111.0" x2="950.8" y2="1099.0"/>
<line x1="1070.5" y1="1111.0" x2="1070.5" y2="1099.0"/>
<line x1="1190.2" y1="1111.0" x2="1190.2" y2="1099.0"/>
</g>
<g font-family="Liberation Sans" font-size="35" fill="#3c3c3c">
<text x="98" y="1120.8" font-size="36.5" text-anchor="end">-2</text>
<text x="98" y="1020.6" font-size="36.5" text-anchor="end">-1</text>
<text x="98" y="920.5" font-size="36.5" text-anchor="end">0</text>
<text x="98" y="820.3" font-size="36.5" text-anchor="end">1</text>
<text x="98" y="720.2" font-size="36.5" text-anchor="end">2</text>
<text x="98" y="620.0" font-size="36.5" text-anchor="end">3</text>
<text x="98" y="519.9" font-size="36.5" text-anchor="end">4</text>
<text x="98" y="419.7" font-size="36.5" text-anchor="end">5</text>
<text x="98" y="319.6" font-size="36.5" text-anchor="end">6</text>
<text x="98" y="219.4" font-size="36.5" text-anchor="end">7</text>
<text x="98" y="119.3" font-size="36.5" text-anchor="end">8</text>
<text transform="translate(112.5,1154) scale(0.89,1)" text-anchor="middle">-200</text>
<text transform="translate(232.2,1154) scale(0.89,1)" text-anchor="middle">-100</text>
<text transform="translate(352.0,1154) scale(0.89,1)" text-anchor="middle">0</text>
<text transform="translate(471.8,1154) scale(0.89,1)" text-anchor="middle">100</text>
<text transform="translate(591.5,1154) scale(0.89,1)" text-anchor="middle">200</text>
<text transform="translate(711.2,1154) scale(0.89,1)" text-anchor="middle">300</text>
<text transform="translate(831.0,1154) scale(0.89,1)" text-anchor="middle">400</text>
<text transform="translate(950.8,1154) scale(0.89,1)" text-anchor="middle">500</text>
<text transform="translate(1070.5,1154) scale(0.89,1)" text-anchor="middle">600</text>
<text transform="translate(1190.2,1154) scale(0.89,1)" text-anchor="middle">700</text>
<text transform="translate(1310.0,1154) scale(0.89,1)" text-anchor="middle">800</text>
</g>
<path d="M113.0,866.0 C117.8,864.5 133.9,855.5 141.7,857.0 C149.5,858.5 152.4,863.0 160.0,875.0 C167.6,887.0 178.7,918.5 187.0,929.0 C195.3,939.5 202.0,937.5 210.0,937.7 C218.0,937.9 226.6,932.3 235.0,930.0 C243.4,927.7 251.5,926.2 260.7,923.7 C269.9,921.2 280.1,916.3 290.0,915.0 C299.9,913.7 310.0,916.0 320.0,916.0 C330.0,916.0 340.8,913.5 350.0,915.0 C359.2,916.5 367.5,919.2 375.0,925.0 C382.5,930.8 389.2,944.5 395.0,950.0 C400.8,955.5 404.2,958.3 410.0,958.0 C415.8,957.7 421.7,955.2 430.0,948.0 C438.3,940.8 450.8,924.7 460.0,915.0 C469.2,905.3 477.5,889.2 485.0,890.0 C492.5,890.8 499.2,907.5 505.0,920.0 C510.8,932.5 515.0,953.3 520.0,965.0 C525.0,976.7 530.0,988.3 535.0,990.0 C540.0,991.7 545.2,987.2 550.0,975.0 C554.8,962.8 559.8,929.1 564.0,916.7 C568.2,904.3 569.3,907.6 575.3,900.6 C581.3,893.6 591.5,883.0 600.0,875.0 C608.5,867.0 618.2,864.8 626.6,852.5 C635.0,840.2 643.7,812.3 650.6,801.2 C657.5,790.1 661.4,783.7 668.0,786.0 C674.6,788.3 683.5,807.9 690.0,815.0 C696.5,822.1 701.9,830.8 706.8,828.5 C711.7,826.2 715.3,810.0 719.6,801.2 C723.9,792.4 726.6,784.2 732.4,775.5 C738.2,766.8 745.7,746.9 754.4,749.0 C763.1,751.1 774.6,771.7 784.7,788.3 C794.8,804.9 804.0,837.6 815.0,848.7 C826.0,859.8 839.9,848.2 851.0,854.8 C862.1,861.3 868.8,873.4 881.4,888.0 C894.0,902.6 913.6,932.2 926.7,942.5 C939.8,952.8 947.8,945.8 960.0,950.0 C972.2,954.2 987.5,961.3 1000.0,968.0 C1012.5,974.7 1021.7,988.0 1035.0,990.0 C1048.3,992.0 1065.8,982.0 1080.0,980.0 C1094.2,978.0 1107.7,980.4 1120.0,978.0 C1132.3,975.6 1143.9,967.8 1153.6,965.5 C1163.3,963.2 1169.9,964.7 1178.3,964.1 C1186.7,963.5 1195.0,964.0 1203.8,962.0 C1212.5,960.0 1222.1,955.0 1230.8,952.0 C1239.5,949.0 1247.6,944.8 1256.0,943.7 C1264.4,942.6 1272.3,943.2 1281.0,945.4 C1289.7,947.6 1303.5,955.1 1308.0,957.0" fill="none" stroke="#000000" stroke-width="6.3" stroke-linejoin="round" stroke-dasharray="27,22"/>
<path d="M113.0,862.0 C115.5,859.2 123.2,847.3 127.7,845.0 C132.2,842.7 135.9,845.7 140.0,848.0 C144.1,850.3 146.8,852.2 152.0,859.0 C157.2,865.8 165.2,879.4 171.5,888.7 C177.8,898.0 183.6,909.0 190.0,915.0 C196.4,921.0 200.8,923.8 210.0,925.0 C219.2,926.2 234.8,923.1 245.0,922.0 C255.2,920.9 264.3,917.3 271.0,918.5 C277.7,919.7 278.6,924.9 285.0,929.0 C291.4,933.1 301.2,940.1 309.7,943.0 C318.2,945.9 328.9,948.9 336.0,946.4 C343.1,943.9 346.3,933.7 352.0,928.0 C357.7,922.3 364.5,913.7 370.0,912.0 C375.5,910.3 379.8,911.9 385.0,918.0 C390.2,924.1 396.5,942.2 401.5,948.7 C406.5,955.2 409.8,956.8 415.0,957.0 C420.2,957.2 427.1,958.1 433.0,950.0 C438.9,941.9 445.7,919.1 450.4,908.4 C455.1,897.7 458.1,894.2 461.0,885.7 C463.9,877.2 465.7,866.7 468.0,857.7 C470.3,848.7 472.3,837.1 475.0,831.5 C477.7,825.9 481.1,824.9 484.0,824.0 C486.9,823.1 489.2,821.2 492.4,826.0 C495.6,830.8 500.1,843.4 503.0,852.5 C505.9,861.6 508.3,871.2 510.0,880.5 C511.7,889.8 511.4,899.4 513.4,908.4 C515.4,917.4 519.1,925.9 522.0,934.7 C524.9,943.5 527.2,953.3 531.0,961.0 C534.8,968.7 539.5,979.0 545.0,981.0 C550.5,983.0 556.8,990.2 564.0,972.8 C571.2,955.4 580.0,911.4 588.0,876.6 C596.0,841.9 602.6,798.2 612.0,764.3 C621.4,730.4 634.5,685.4 644.2,673.0 C653.9,660.6 662.4,681.3 670.0,690.0 C677.6,698.7 684.2,717.0 690.0,725.0 C695.8,733.0 699.3,740.8 705.0,738.0 C710.7,735.2 720.1,714.9 724.4,708.2 C728.7,701.5 728.1,704.5 731.0,698.0 C733.9,691.5 738.5,677.8 742.0,669.0 C745.5,660.2 748.2,652.8 752.0,645.0 C755.8,637.2 760.7,627.5 765.0,622.0 C769.3,616.5 773.0,611.5 778.0,612.0 C783.0,612.5 788.5,619.5 795.0,625.0 C801.5,630.5 810.7,644.2 817.0,645.0 C823.3,645.8 827.7,635.0 833.0,630.0 C838.3,625.0 844.2,615.8 849.0,615.0 C853.8,614.2 857.3,619.2 862.0,625.0 C866.7,630.8 871.2,641.2 877.0,650.0 C882.8,658.8 891.3,670.0 897.0,678.0 C902.7,686.0 906.0,690.3 911.0,698.0 C916.0,705.7 921.9,715.5 927.0,724.0 C932.1,732.5 936.4,741.3 941.9,749.0 C947.4,756.7 954.2,763.0 960.0,770.0 C965.8,777.0 966.2,778.9 976.8,791.0 C987.4,803.1 1009.9,824.8 1023.5,842.5 C1037.1,860.2 1046.9,883.4 1058.6,897.0 C1070.3,910.6 1083.5,915.3 1093.7,924.3 C1103.9,933.3 1113.1,943.0 1120.0,951.0 C1126.9,959.0 1130.0,969.7 1135.0,972.0 C1140.0,974.3 1144.2,967.3 1150.0,965.0 C1155.8,962.7 1164.2,959.2 1170.0,958.0 C1175.8,956.8 1178.3,956.8 1185.0,958.0 C1191.7,959.2 1200.8,962.3 1210.0,965.0 C1219.2,967.7 1231.3,971.5 1240.0,974.0 C1248.7,976.5 1256.0,976.7 1262.0,980.0 C1268.0,983.3 1269.7,991.0 1276.0,994.0 C1282.3,997.0 1294.3,996.7 1300.0,998.0 C1305.7,999.3 1308.3,1001.3 1310.0,1002.0" fill="none" stroke="#d80404" stroke-width="6.3" stroke-linejoin="round" stroke-dasharray="27,22"/>
<path d="M113.0,827.0 C117.5,830.3 133.2,839.4 140.0,846.7 C146.8,854.0 148.2,862.5 154.0,871.0 C159.8,879.5 168.6,888.7 175.0,897.5 C181.4,906.3 185.2,917.9 192.5,923.7 C199.8,929.5 208.5,932.4 218.7,932.4 C228.9,932.4 245.1,922.4 253.7,923.7 C262.2,925.0 264.2,935.3 270.0,940.0 C275.8,944.7 282.9,951.7 288.7,951.7 C294.5,951.7 299.8,944.5 305.0,940.0 C310.2,935.5 313.3,928.0 320.0,925.0 C326.7,922.0 337.8,921.8 345.0,922.0 C352.2,922.2 357.4,922.4 363.0,926.0 C368.6,929.6 373.4,939.1 378.7,943.4 C384.0,947.7 389.8,951.7 395.0,952.0 C400.2,952.3 405.4,947.0 410.0,945.0 C414.6,943.0 417.5,944.5 422.5,940.0 C427.5,935.5 433.8,926.3 440.0,918.0 C446.2,909.7 454.2,897.2 460.0,890.0 C465.8,882.8 470.8,881.5 475.0,875.0 C479.2,868.5 481.9,856.5 485.4,850.7 C488.9,844.9 492.2,841.5 496.0,840.0 C499.8,838.5 502.8,837.9 508.0,842.0 C513.2,846.1 521.2,854.2 527.4,864.7 C533.6,875.2 539.2,890.8 545.0,905.0 C550.8,919.2 556.7,937.8 562.0,950.0 C567.3,962.2 572.3,973.0 577.0,978.0 C581.7,983.0 585.5,984.7 590.0,980.0 C594.5,975.3 599.0,960.8 604.0,950.0 C609.0,939.2 614.7,925.9 620.0,915.0 C625.3,904.1 630.1,892.8 636.0,884.6 C641.9,876.4 649.6,875.4 655.5,866.0 C661.4,856.6 666.2,845.5 671.5,828.5 C676.8,811.5 682.7,785.7 687.5,764.3 C692.3,742.9 695.6,724.0 700.4,700.0 C705.2,676.0 710.3,649.8 716.4,620.0 C722.5,590.2 731.6,542.2 737.0,521.0 C742.4,499.8 745.7,501.8 749.0,493.0 C752.3,484.2 752.8,476.5 757.0,468.0 C761.2,459.5 769.2,450.0 774.0,442.0 C778.8,434.0 780.3,426.2 786.0,420.0 C791.7,413.8 802.2,408.0 808.0,405.0 C813.8,402.0 816.5,402.0 821.0,402.0 C825.5,402.0 828.7,401.8 835.0,405.0 C841.3,408.2 852.5,415.2 859.0,421.0 C865.5,426.8 867.8,433.2 874.0,440.0 C880.2,446.8 889.7,454.5 896.0,462.0 C902.3,469.5 906.3,477.8 912.0,485.0 C917.7,492.2 923.2,497.3 930.0,505.0 C936.8,512.7 945.2,520.2 953.0,531.0 C960.8,541.8 970.7,559.2 977.0,570.0 C983.3,580.8 987.2,587.5 991.0,596.0 C994.8,604.5 996.5,612.5 1000.0,621.0 C1003.5,629.5 1009.0,638.2 1012.0,647.0 C1015.0,655.8 1015.0,665.2 1018.0,674.0 C1021.0,682.8 1025.0,692.5 1030.0,700.0 C1035.0,707.5 1043.0,713.5 1048.0,719.0 C1053.0,724.5 1056.7,727.5 1060.0,733.0 C1063.3,738.5 1065.5,744.2 1068.0,752.0 C1070.5,759.8 1072.5,773.3 1075.0,780.0 C1077.5,786.7 1078.8,787.3 1083.0,792.0 C1087.2,796.7 1093.6,803.3 1100.0,808.0 C1106.4,812.7 1116.3,817.0 1121.6,820.0 C1126.9,823.0 1128.9,823.3 1132.0,826.0 C1135.1,828.7 1137.0,830.3 1140.0,836.0 C1143.0,841.7 1147.3,851.0 1150.0,860.0 C1152.7,869.0 1153.8,879.7 1156.0,890.0 C1158.2,900.3 1159.5,913.7 1163.0,922.0 C1166.5,930.3 1170.3,935.7 1177.0,940.0 C1183.7,944.3 1195.8,944.0 1203.0,948.0 C1210.2,952.0 1213.4,958.0 1220.0,964.0 C1226.6,970.0 1235.7,977.9 1242.5,984.0 C1249.3,990.1 1255.4,993.7 1261.0,1000.7 C1266.6,1007.7 1270.4,1023.8 1276.0,1025.8 C1281.6,1027.8 1288.8,1015.9 1294.5,1012.4 C1300.2,1008.9 1307.4,1006.2 1310.0,1005.0" fill="none" stroke="#06e406" stroke-width="6.3" stroke-linejoin="round" stroke-dasharray="27,22"/>
<path d="M113.0,892.0 C117.5,891.5 132.6,889.0 140.0,888.7 C147.4,888.5 152.2,888.5 157.5,890.5 C162.8,892.5 166.6,895.2 171.5,901.0 C176.4,906.8 181.8,919.9 187.0,925.4 C192.2,930.9 196.3,934.0 203.0,934.0 C209.7,934.0 219.0,929.4 227.4,925.4 C235.8,921.4 244.9,911.8 253.7,909.7 C262.5,907.6 269.8,911.8 280.0,913.0 C290.2,914.2 305.8,916.0 315.0,916.7 C324.2,917.4 327.9,917.5 335.0,917.0 C342.1,916.5 351.3,912.8 357.7,913.7 C364.1,914.6 367.7,916.6 373.5,922.4 C379.3,928.2 386.9,942.3 392.7,948.7 C398.5,955.1 402.7,960.7 408.5,961.0 C414.3,961.3 419.6,958.3 427.7,950.4 C435.8,942.5 448.1,925.1 457.4,913.7 C466.7,902.3 477.0,885.8 483.7,882.0 C490.4,878.2 493.3,884.3 497.7,891.0 C502.1,897.7 505.6,908.4 510.0,922.4 C514.4,936.4 520.5,963.7 524.0,975.0 C527.5,986.3 528.3,990.0 531.0,990.0 C533.7,990.0 535.8,987.5 540.0,975.0 C544.2,962.5 550.7,934.1 556.0,915.0 C561.3,895.9 565.8,878.1 572.0,860.5 C578.2,842.9 585.0,816.4 593.0,809.2 C601.0,802.0 612.8,818.0 620.0,817.2 C627.2,816.4 628.8,814.5 636.0,804.4 C643.2,794.2 655.5,759.0 663.5,756.3 C671.5,753.6 678.1,776.4 684.3,788.4 C690.4,800.4 696.6,819.7 700.4,828.5 C704.1,837.3 702.8,845.5 706.8,841.3 C710.8,837.1 717.3,815.3 724.2,803.4 C731.1,791.5 739.8,768.5 748.4,770.0 C757.0,771.5 767.0,797.9 775.6,812.5 C784.2,827.1 791.2,847.7 799.8,857.8 C808.4,867.9 817.4,871.5 827.0,873.0 C836.6,874.5 847.1,862.0 857.2,867.0 C867.3,872.0 877.3,890.2 887.4,903.2 C897.5,916.2 909.8,935.4 917.7,945.0 C925.6,954.6 929.6,959.0 935.0,961.0 C940.4,963.0 944.5,959.3 950.0,957.0 C955.5,954.7 961.2,946.5 968.0,947.0 C974.8,947.5 983.8,955.2 991.0,960.0 C998.2,964.8 1003.8,971.3 1011.0,976.0 C1018.2,980.7 1027.5,987.0 1034.0,988.0 C1040.5,989.0 1044.8,985.3 1050.0,982.0 C1055.2,978.7 1059.2,970.5 1065.0,968.0 C1070.8,965.5 1078.7,965.3 1085.0,967.0 C1091.3,968.7 1097.0,974.8 1103.0,978.0 C1109.0,981.2 1114.5,985.0 1121.0,986.0 C1127.5,987.0 1134.8,984.0 1141.9,983.8 C1149.0,983.5 1157.0,984.1 1163.7,984.5 C1170.4,984.9 1176.5,987.0 1182.0,986.0 C1187.5,985.0 1190.2,980.4 1196.5,978.7 C1202.8,977.0 1212.3,975.8 1220.0,975.8 C1227.7,975.8 1233.2,980.4 1242.5,979.0 C1251.8,977.6 1264.8,967.5 1276.0,967.2 C1287.2,966.9 1304.0,975.5 1309.6,977.2" fill="none" stroke="#000000" stroke-width="6.3" stroke-linejoin="round"/>
<path d="M113.0,904.0 C117.5,904.3 131.2,907.1 140.0,906.0 C148.8,904.9 158.7,898.7 166.0,897.5 C173.3,896.3 176.4,897.0 183.7,899.0 C191.0,901.0 199.8,907.0 210.0,909.7 C220.2,912.4 234.8,913.5 245.0,915.0 C255.2,916.5 262.7,920.0 271.0,918.5 C279.3,917.0 287.7,908.6 295.0,906.0 C302.3,903.4 308.8,901.7 315.0,902.7 C321.2,903.7 326.6,907.5 332.4,912.0 C338.2,916.5 343.7,923.9 350.0,930.0 C356.3,936.1 362.3,942.1 370.0,948.7 C377.7,955.3 388.9,964.8 396.2,969.7 C403.5,974.7 406.4,977.2 413.7,978.4 C421.0,979.6 432.7,979.6 440.0,976.7 C447.3,973.8 451.6,968.9 457.4,961.0 C463.2,953.1 469.7,937.9 475.0,929.4 C480.3,920.9 484.7,912.6 489.0,910.0 C493.3,907.4 496.1,907.2 501.0,913.7 C505.9,920.2 512.9,937.3 518.7,948.7 C524.5,960.1 530.2,975.9 536.0,982.0 C541.8,988.1 548.3,988.9 553.6,985.4 C558.9,981.9 564.5,968.5 567.6,961.0 C570.7,953.5 568.6,957.5 572.0,940.7 C575.4,924.0 582.7,892.6 588.0,860.5 C593.3,828.4 598.7,780.4 604.0,748.3 C609.3,716.2 613.6,685.6 620.0,668.0 C626.4,650.4 634.6,642.5 642.6,642.5 C650.6,642.5 661.3,655.7 668.3,668.0 C675.2,680.3 678.9,704.4 684.3,716.2 C689.6,728.0 695.0,740.0 700.4,738.7 C705.8,737.4 711.1,721.3 716.4,708.2 C721.7,695.1 725.6,673.9 732.4,660.0 C739.2,646.1 747.7,628.3 757.4,625.0 C767.1,621.7 779.1,631.9 790.7,640.0 C802.3,648.1 815.9,658.8 827.0,673.4 C838.1,688.0 847.1,707.6 857.2,727.8 C867.3,747.9 877.3,771.6 887.4,794.3 C897.5,817.0 909.1,848.8 917.7,863.9 C926.3,879.0 931.8,881.5 938.8,885.0 C945.8,888.5 951.7,886.2 960.0,885.0 C968.3,883.8 979.9,876.5 988.5,877.6 C997.1,878.7 1004.7,881.4 1011.9,891.6 C1019.1,901.8 1026.1,925.9 1031.8,939.0 C1037.5,952.1 1041.6,963.2 1046.0,970.0 C1050.4,976.8 1051.8,980.0 1058.0,980.0 C1064.2,980.0 1075.5,970.7 1083.0,970.0 C1090.5,969.3 1096.8,975.2 1103.0,976.0 C1109.2,976.8 1113.5,975.5 1120.0,975.0 C1126.5,974.5 1136.4,972.0 1141.9,972.9 C1147.4,973.8 1148.5,976.6 1152.8,980.2 C1157.0,983.9 1162.5,991.2 1167.4,994.8 C1172.3,998.4 1177.8,1001.4 1182.0,1002.0 C1186.2,1002.6 1188.7,1000.0 1192.9,998.4 C1197.2,996.8 1203.0,993.2 1207.5,992.6 C1212.0,992.0 1212.8,991.2 1220.0,994.8 C1227.2,998.4 1240.3,1013.6 1251.0,1014.0 C1261.7,1014.4 1274.6,998.5 1284.4,997.4 C1294.2,996.3 1305.4,1005.7 1309.6,1007.4" fill="none" stroke="#d80404" stroke-width="6.3" stroke-linejoin="round"/>
<path d="M113.0,882.0 C115.0,879.3 119.0,871.6 125.0,866.0 C130.9,860.4 142.4,849.1 148.7,848.5 C155.0,847.9 157.7,854.3 162.7,862.5 C167.7,870.7 173.5,887.0 178.5,897.5 C183.5,908.0 187.8,919.6 192.5,925.4 C197.2,931.2 200.7,931.8 206.5,932.4 C212.3,933.0 219.5,929.0 227.4,929.0 C235.3,929.0 246.4,932.7 253.7,932.4 C261.0,932.1 263.7,930.2 271.0,927.0 C278.3,923.8 288.6,913.8 297.4,913.0 C306.2,912.2 315.7,917.8 323.6,922.0 C331.5,926.2 338.8,933.3 345.0,938.0 C351.2,942.7 353.9,943.7 361.0,950.0 C368.1,956.3 379.6,970.1 387.5,976.0 C395.4,981.9 402.7,984.4 408.5,985.4 C414.3,986.4 417.2,986.7 422.5,982.0 C427.8,977.3 434.2,967.9 440.0,957.4 C445.8,946.9 451.6,928.9 457.4,919.0 C463.2,909.1 467.7,901.2 475.0,898.0 C482.3,894.8 493.7,901.5 501.0,900.0 C508.3,898.5 512.9,890.5 518.7,889.0 C524.5,887.5 530.2,885.4 536.0,891.0 C541.8,896.6 548.3,906.7 553.6,922.4 C558.9,938.1 563.9,972.7 567.6,985.0 C571.3,997.3 572.6,996.0 576.0,996.0 C579.4,996.0 583.3,992.9 588.0,985.0 C592.7,977.1 597.3,961.4 604.0,948.7 C610.7,936.0 620.0,922.0 628.0,908.6 C636.0,895.2 645.3,883.3 652.0,868.6 C658.7,853.9 662.9,840.5 668.3,820.4 C673.7,800.3 679.0,773.2 684.3,748.3 C689.6,723.4 694.4,703.6 700.0,671.0 C705.6,638.4 712.0,587.3 718.0,552.4 C724.0,517.5 729.2,490.9 736.3,461.7 C743.4,432.5 751.4,402.2 760.5,377.0 C769.6,351.8 780.6,327.4 790.7,310.5 C800.8,293.6 812.0,279.2 821.0,275.7 C830.0,272.2 837.0,279.5 845.0,289.3 C853.0,299.1 861.2,316.1 869.3,334.7 C877.4,353.3 886.5,377.5 893.5,401.2 C900.5,424.9 905.6,459.2 911.6,476.8 C917.6,494.4 924.2,499.5 929.8,507.0 C935.4,514.5 941.6,518.0 945.0,522.0 C948.4,526.0 945.7,521.7 950.0,531.0 C954.3,540.3 964.2,559.3 971.0,578.0 C977.8,596.7 984.2,623.7 991.0,643.0 C997.8,662.3 1005.2,681.3 1012.0,694.0 C1018.8,706.7 1025.3,710.5 1032.0,719.0 C1038.7,727.5 1047.0,736.5 1052.0,745.0 C1057.0,753.5 1056.8,758.0 1062.0,770.0 C1067.2,782.0 1076.2,805.5 1083.0,817.0 C1089.8,828.5 1096.8,831.5 1103.0,839.0 C1109.2,846.5 1115.2,852.8 1120.0,862.0 C1124.8,871.2 1128.0,883.8 1132.0,894.0 C1136.0,904.2 1140.0,913.5 1144.0,923.0 C1148.0,932.5 1150.8,942.5 1156.0,951.0 C1161.2,959.5 1168.5,967.2 1175.0,974.0 C1181.5,980.8 1188.7,986.5 1195.0,992.0 C1201.3,997.5 1206.5,1002.2 1213.0,1007.0 C1219.5,1011.8 1227.2,1015.5 1234.0,1021.0 C1240.8,1026.5 1248.0,1035.5 1254.0,1040.0 C1260.0,1044.5 1263.2,1048.7 1270.0,1048.0 C1276.8,1047.3 1288.5,1037.3 1295.0,1036.0 C1301.5,1034.7 1306.7,1039.3 1309.0,1040.0" fill="none" stroke="#06e406" stroke-width="6.3" stroke-linejoin="round"/>
<rect x="708" y="251" width="237" height="858" fill="#bbbbbb" fill-opacity="0.45"/>
<rect x="946.5" y="149.5" width="325.5" height="228" fill="#fff" stroke="#6a6a6a" stroke-width="2"/>
<g stroke="#000000" stroke-width="6">
<line x1="956" y1="171.0" x2="983.5" y2="171.0"/>
<line x1="1008" y1="171.0" x2="1035.5" y2="171.0"/>
<line x1="1061" y1="171.0" x2="1065" y2="171.0"/>
</g>
<text x="1073" y="181.5" font-family="Liberation Sans" font-size="29.5" fill="#111">Pre-standard</text>
<g stroke="#d80404" stroke-width="6">
<line x1="956" y1="208.2" x2="983.5" y2="208.2"/>
<line x1="1008" y1="208.2" x2="1035.5" y2="208.2"/>
<line x1="1061" y1="208.2" x2="1065" y2="208.2"/>
</g>
<text x="1073" y="218.7" font-family="Liberation Sans" font-size="29.5" fill="#111">Pre-novel</text>
<g stroke="#06e406" stroke-width="6">
<line x1="956" y1="245.3" x2="983.5" y2="245.3"/>
<line x1="1008" y1="245.3" x2="1035.5" y2="245.3"/>
<line x1="1061" y1="245.3" x2="1065" y2="245.3"/>
</g>
<text x="1073" y="255.8" font-family="Liberation Sans" font-size="29.5" fill="#111">Pre-target</text>
<line x1="956" y1="282.4" x2="1065" y2="282.4" stroke="#000000" stroke-width="7"/>
<text x="1073" y="292.9" font-family="Liberation Sans" font-size="29.5" fill="#111">Post-standard</text>
<line x1="956" y1="319.6" x2="1065" y2="319.6" stroke="#d80404" stroke-width="7"/>
<text x="1073" y="330.1" font-family="Liberation Sans" font-size="29.5" fill="#111">Post-novel</text>
<line x1="956" y1="356.8" x2="1065" y2="356.8" stroke="#06e406" stroke-width="7"/>
<text x="1073" y="367.2" font-family="Liberation Sans" font-size="29.5" fill="#111">Post-target</text>
<text x="647" y="94.7" font-family="Liberation Sans" font-size="38" fill="#111" stroke="#111" stroke-width="0.7" textLength="128" lengthAdjust="spacingAndGlyphs">Control</text>
<text x="624.6" y="1215.6" font-family="Liberation Sans" font-size="42" fill="#000" textLength="189.4" lengthAdjust="spacingAndGlyphs">Time (ms)</text>
<text transform="translate(47,766) rotate(-90)" font-family="Liberation Sans" font-size="42" fill="#000" textLength="270" lengthAdjust="spacingAndGlyphs">Amplitude (µV)</text>
<g stroke="#3a3a3a" stroke-width="3" fill="none">
<path d="M143.6,1390.0 H133.6 V2364.0 H1329.4 V2354.0"/>
<line x1="133.6" y1="2266.6" x2="143.6" y2="2266.6"/>
<line x1="133.6" y1="2169.2" x2="143.6" y2="2169.2"/>
<line x1="133.6" y1="2071.8" x2="143.6" y2="2071.8"/>
<line x1="133.6" y1="1974.4" x2="143.6" y2="1974.4"/>
<line x1="133.6" y1="1877.0" x2="143.6" y2="1877.0"/>
<line x1="133.6" y1="1779.6" x2="143.6" y2="1779.6"/>
<line x1="133.6" y1="1682.2" x2="143.6" y2="1682.2"/>
<line x1="133.6" y1="1584.8" x2="143.6" y2="1584.8"/>
<line x1="133.6" y1="1487.4" x2="143.6" y2="1487.4"/>
<line x1="253.2" y1="2364.0" x2="253.2" y2="2354.0"/>
<line x1="372.8" y1="2364.0" x2="372.8" y2="2354.0"/>
<line x1="492.3" y1="2364.0" x2="492.3" y2="2354.0"/>
<line x1="611.9" y1="2364.0" x2="611.9" y2="2354.0"/>
<line x1="731.5" y1="2364.0" x2="731.5" y2="2354.0"/>
<line x1="851.1" y1="2364.0" x2="851.1" y2="2354.0"/>
<line x1="970.7" y1="2364.0" x2="970.7" y2="2354.0"/>
<line x1="1090.2" y1="2364.0" x2="1090.2" y2="2354.0"/>
<line x1="1209.8" y1="2364.0" x2="1209.8" y2="2354.0"/>
</g>
<g font-family="Liberation Sans" font-size="27.5" fill="#444" stroke="#444" stroke-width="0.4">
<text x="119" y="2374.0" text-anchor="end">-2</text>
<text x="119" y="2276.6" text-anchor="end">-1</text>
<text x="119" y="2179.2" text-anchor="end">0</text>
<text x="119" y="2081.8" text-anchor="end">1</text>
<text x="119" y="1984.4" text-anchor="end">2</text>
<text x="119" y="1887.0" text-anchor="end">3</text>
<text x="119" y="1789.6" text-anchor="end">4</text>
<text x="119" y="1692.2" text-anchor="end">5</text>
<text x="119" y="1594.8" text-anchor="end">6</text>
<text x="119" y="1497.4" text-anchor="end">7</text>
<text x="119" y="1400.0" text-anchor="end">8</text>
<text x="136.6" y="2406" text-anchor="middle">-200</text>
<text x="256.2" y="2406" text-anchor="middle">-100</text>
<text x="375.8" y="2406" text-anchor="middle">0</text>
<text x="495.3" y="2406" text-anchor="middle">100</text>
<text x="614.9" y="2406" text-anchor="middle">200</text>
<text x="734.5" y="2406" text-anchor="middle">300</text>
<text x="854.1" y="2406" text-anchor="middle">400</text>
<text x="973.7" y="2406" text-anchor="middle">500</text>
<text x="1093.2" y="2406" text-anchor="middle">600</text>
<text x="1212.8" y="2406" text-anchor="middle">700</text>
<text x="1332.4" y="2406" text-anchor="middle">800</text>
</g>
<path d="M137.0,2130.0 C140.4,2130.7 150.5,2130.7 157.7,2134.0 C164.9,2137.3 172.1,2144.3 180.0,2150.0 C187.9,2155.7 195.8,2163.8 205.0,2168.0 C214.2,2172.2 225.8,2175.0 235.0,2175.0 C244.2,2175.0 253.2,2170.1 260.0,2168.0 C266.8,2165.9 272.0,2163.0 276.0,2162.4 C280.0,2161.8 280.2,2162.4 284.2,2164.5 C288.2,2166.6 294.9,2171.6 300.0,2175.0 C305.1,2178.4 309.6,2184.0 314.8,2185.0 C320.0,2186.0 323.5,2179.6 331.0,2180.8 C338.5,2182.0 350.3,2188.8 360.0,2192.0 C369.7,2195.2 381.2,2198.1 389.2,2200.0 C397.2,2201.9 401.0,2203.4 407.8,2203.4 C414.6,2203.4 422.6,2200.1 430.0,2200.0 C437.4,2199.9 445.0,2206.3 452.0,2203.0 C459.0,2199.7 466.7,2186.9 472.0,2180.0 C477.3,2173.1 479.8,2168.5 483.6,2161.5 C487.4,2154.5 491.2,2143.2 495.0,2138.0 C498.8,2132.8 503.3,2130.2 506.5,2130.0 C509.7,2129.8 511.2,2131.0 514.0,2137.0 C516.8,2143.0 519.5,2154.7 523.0,2166.0 C526.5,2177.3 531.3,2194.3 535.0,2205.0 C538.7,2215.7 541.8,2223.5 545.0,2230.0 C548.2,2236.5 551.2,2241.3 554.0,2244.0 C556.8,2246.7 558.6,2248.7 561.6,2246.0 C564.6,2243.3 567.0,2238.7 571.8,2227.8 C576.6,2216.9 585.4,2193.4 590.2,2180.8 C595.0,2168.2 596.6,2159.5 600.4,2152.0 C604.1,2144.5 608.6,2140.0 612.7,2136.0 C616.8,2132.0 620.2,2130.4 625.0,2128.0 C629.8,2125.6 635.8,2124.4 641.2,2121.6 C646.6,2118.8 651.1,2117.5 657.6,2111.4 C664.1,2105.3 673.2,2088.1 680.0,2085.0 C686.8,2081.9 691.6,2089.6 698.4,2093.0 C705.2,2096.4 714.0,2106.0 720.8,2105.3 C727.6,2104.6 733.5,2095.4 739.2,2089.0 C744.9,2082.6 749.9,2072.7 755.0,2067.0 C760.1,2061.3 764.6,2056.2 770.0,2055.0 C775.4,2053.8 781.3,2055.4 787.3,2059.6 C793.2,2063.8 800.6,2072.5 805.7,2080.0 C810.8,2087.5 813.6,2097.3 818.0,2104.5 C822.4,2111.7 826.1,2117.8 832.2,2122.9 C838.3,2128.0 847.9,2132.6 854.7,2135.0 C861.5,2137.4 866.9,2133.0 873.0,2137.1 C879.1,2141.2 885.3,2152.1 891.4,2159.6 C897.5,2167.1 902.6,2176.2 909.8,2182.0 C916.9,2187.8 926.8,2190.9 934.3,2194.3 C941.8,2197.7 947.6,2200.7 954.7,2202.4 C961.8,2204.1 969.5,2203.5 977.0,2204.5 C984.5,2205.5 992.3,2207.9 1000.0,2208.6 C1007.7,2209.3 1016.4,2210.1 1023.2,2208.8 C1030.0,2207.5 1033.8,2201.4 1041.0,2201.0 C1048.2,2200.6 1059.3,2205.3 1066.5,2206.2 C1073.7,2207.1 1077.2,2207.9 1084.4,2206.2 C1091.7,2204.5 1101.9,2197.3 1110.0,2196.0 C1118.1,2194.7 1125.3,2198.2 1132.9,2198.6 C1140.5,2199.0 1148.6,2199.0 1155.8,2198.6 C1163.0,2198.2 1169.0,2197.3 1176.2,2196.0 C1183.4,2194.7 1192.0,2192.7 1199.2,2191.0 C1206.4,2189.3 1212.4,2186.7 1219.6,2185.8 C1226.8,2184.9 1234.8,2185.8 1242.5,2185.8 C1250.2,2185.8 1257.8,2185.8 1265.5,2185.8 C1273.2,2185.8 1281.3,2186.2 1288.5,2185.8 C1295.7,2185.4 1302.2,2184.2 1308.9,2183.2 C1315.7,2182.2 1325.7,2180.5 1329.0,2180.0" fill="none" stroke="#000000" stroke-width="5" stroke-dasharray="20,17"/>
<path d="M137.0,2125.7 C140.4,2125.7 150.2,2125.0 157.7,2125.7 C165.2,2126.4 174.6,2125.4 182.1,2129.8 C189.6,2134.2 195.4,2145.4 202.6,2152.2 C209.8,2159.0 218.2,2166.2 225.0,2170.6 C231.8,2175.0 235.9,2176.4 243.4,2178.8 C250.9,2181.2 261.4,2182.6 270.0,2185.0 C278.6,2187.4 287.5,2191.7 295.0,2193.0 C302.5,2194.3 308.8,2194.7 314.8,2193.0 C320.8,2191.3 325.2,2183.2 331.0,2182.9 C336.8,2182.6 343.7,2187.6 349.5,2191.0 C355.3,2194.4 359.4,2197.3 365.8,2203.3 C372.2,2209.3 380.4,2221.5 388.0,2226.8 C395.6,2232.1 403.9,2237.5 411.3,2235.0 C418.7,2232.5 427.2,2215.9 432.3,2211.6 C437.4,2207.3 437.0,2211.2 441.6,2209.3 C446.2,2207.4 453.6,2207.4 460.0,2200.0 C466.4,2192.6 473.7,2178.0 480.0,2165.0 C486.3,2152.0 493.2,2129.5 497.6,2121.8 C502.0,2114.1 502.6,2119.4 506.5,2119.0 C510.4,2118.6 516.7,2117.1 520.8,2119.6 C524.9,2122.1 528.3,2127.1 531.0,2133.9 C533.7,2140.7 534.6,2152.9 537.0,2160.4 C539.4,2167.9 543.2,2171.7 545.3,2178.8 C547.4,2186.0 547.0,2196.2 549.4,2203.3 C551.8,2210.4 556.2,2218.3 559.6,2221.6 C563.0,2224.9 565.8,2224.4 570.0,2223.0 C574.2,2221.6 580.5,2217.7 585.0,2213.0 C589.5,2208.3 593.3,2202.2 597.0,2195.0 C600.7,2187.8 603.8,2179.2 607.0,2170.0 C610.2,2160.8 613.0,2150.3 616.0,2140.0 C619.0,2129.7 622.2,2118.8 625.0,2108.0 C627.8,2097.2 630.3,2085.5 633.0,2075.0 C635.7,2064.5 637.5,2054.0 641.0,2045.0 C644.5,2036.0 650.2,2026.2 654.0,2021.0 C657.8,2015.8 659.9,2011.3 664.0,2014.0 C668.1,2016.7 673.8,2030.2 678.7,2037.0 C683.6,2043.8 688.3,2048.5 693.2,2054.8 C698.1,2061.1 703.1,2070.4 708.0,2075.0 C712.9,2079.6 717.9,2085.9 722.3,2082.3 C726.7,2078.7 730.3,2061.7 734.3,2053.5 C738.3,2045.3 743.8,2040.8 746.5,2033.0 C749.2,2025.2 748.6,2014.0 750.6,2006.5 C752.6,1999.0 754.9,1994.8 758.8,1988.0 C762.6,1981.2 767.2,1969.3 773.7,1965.6 C780.2,1961.9 789.8,1967.1 797.8,1965.6 C805.8,1964.1 814.5,1956.1 821.8,1956.8 C829.1,1957.5 834.6,1964.9 841.5,1970.0 C848.4,1975.1 856.8,1982.0 863.4,1987.4 C870.0,1992.9 876.2,1995.4 880.9,2002.7 C885.6,2010.0 887.4,2022.8 891.8,2031.2 C896.2,2039.6 901.7,2045.9 907.1,2053.0 C912.5,2060.1 918.1,2066.3 924.0,2073.9 C929.9,2081.5 938.3,2090.6 942.4,2098.4 C946.5,2106.2 945.2,2113.3 948.6,2120.8 C952.0,2128.3 958.5,2136.8 962.9,2143.3 C967.3,2149.8 970.5,2158.0 975.0,2160.0 C979.5,2162.0 985.8,2157.3 990.0,2155.2 C994.2,2153.1 994.2,2148.5 1000.2,2147.6 C1006.2,2146.7 1018.5,2147.4 1025.7,2150.0 C1032.9,2152.6 1037.2,2158.2 1043.6,2162.9 C1050.0,2167.6 1057.6,2171.8 1064.0,2178.2 C1070.4,2184.5 1076.7,2193.8 1081.8,2201.0 C1086.9,2208.2 1088.6,2218.5 1094.6,2221.5 C1100.6,2224.5 1110.8,2216.4 1117.6,2219.0 C1124.4,2221.6 1129.0,2230.4 1135.4,2236.8 C1141.8,2243.2 1149.4,2255.9 1155.8,2257.2 C1162.2,2258.5 1166.9,2249.6 1173.7,2244.5 C1180.5,2239.4 1188.9,2227.0 1196.6,2226.6 C1204.2,2226.2 1211.9,2236.9 1219.6,2242.0 C1227.2,2247.1 1234.8,2254.2 1242.5,2257.2 C1250.2,2260.2 1258.2,2260.7 1265.5,2259.8 C1272.8,2258.9 1278.8,2256.7 1286.0,2252.0 C1293.2,2247.3 1301.7,2236.8 1308.9,2231.7 C1316.1,2226.6 1325.9,2223.2 1329.3,2221.5" fill="none" stroke="#d80404" stroke-width="5" stroke-dasharray="20,17"/>
<path d="M137.0,2130.0 C139.2,2128.3 145.3,2121.0 150.0,2120.0 C154.7,2119.0 157.9,2119.3 165.0,2124.0 C172.1,2128.7 184.8,2139.2 192.3,2148.2 C199.8,2157.2 203.7,2174.7 210.0,2178.0 C216.3,2181.3 222.4,2173.0 230.0,2168.0 C237.6,2163.0 248.6,2145.0 255.6,2148.2 C262.6,2151.4 266.9,2178.5 272.0,2187.0 C277.1,2195.5 281.5,2196.5 286.2,2199.2 C290.9,2201.9 294.6,2202.0 300.0,2203.0 C305.4,2204.0 312.3,2206.6 318.9,2205.3 C325.4,2204.0 333.5,2194.3 339.3,2195.0 C345.1,2195.7 347.8,2206.2 353.6,2209.4 C359.4,2212.6 366.1,2213.8 374.0,2214.0 C381.9,2214.2 393.0,2211.6 400.8,2210.4 C408.6,2209.2 413.4,2206.2 420.6,2207.0 C427.8,2207.8 437.2,2214.2 444.0,2215.0 C450.8,2215.8 455.3,2218.8 461.5,2211.6 C467.7,2204.4 476.1,2180.2 481.3,2172.0 C486.6,2163.8 488.1,2168.6 493.0,2162.6 C497.9,2156.6 504.6,2139.4 510.6,2136.0 C516.6,2132.6 521.5,2138.6 529.0,2142.0 C536.5,2145.4 549.4,2150.9 555.5,2156.3 C561.6,2161.8 562.3,2166.9 565.7,2174.7 C569.1,2182.5 572.6,2195.1 576.0,2203.3 C579.4,2211.5 582.5,2217.2 586.0,2223.7 C589.5,2230.1 593.6,2237.9 597.0,2242.0 C600.4,2246.1 603.5,2248.0 606.5,2248.0 C609.5,2248.0 612.0,2247.8 614.7,2242.0 C617.4,2236.2 620.2,2221.7 622.9,2213.5 C625.6,2205.3 628.3,2201.5 631.0,2193.0 C633.7,2184.5 636.1,2170.2 639.2,2162.4 C642.3,2154.6 645.7,2152.8 649.4,2146.0 C653.1,2139.2 656.5,2129.1 661.6,2121.6 C666.7,2114.1 674.5,2109.3 680.0,2101.2 C685.5,2093.0 689.6,2084.4 694.3,2072.7 C699.0,2061.0 704.0,2041.4 708.1,2031.2 C712.2,2021.0 715.4,2022.8 719.0,2011.5 C722.6,2000.2 725.2,1986.7 730.0,1963.4 C734.8,1940.1 742.8,1894.1 747.5,1871.5 C752.2,1848.9 753.3,1842.7 758.4,1827.8 C763.5,1812.9 773.0,1793.6 778.0,1781.9 C783.0,1770.2 783.4,1764.5 788.4,1757.7 C793.4,1750.9 801.9,1744.6 808.0,1741.0 C814.1,1737.4 818.8,1736.3 825.0,1736.0 C831.2,1735.7 838.3,1737.0 845.0,1739.0 C851.7,1741.0 858.8,1744.5 865.0,1748.0 C871.2,1751.5 876.8,1755.3 882.0,1760.0 C887.2,1764.7 891.3,1769.7 896.0,1776.0 C900.7,1782.3 904.9,1791.2 910.0,1798.0 C915.1,1804.8 921.8,1809.8 926.8,1817.0 C931.8,1824.2 934.5,1833.0 940.0,1841.0 C945.5,1849.0 955.2,1857.0 960.0,1865.0 C964.8,1873.0 964.0,1881.8 968.7,1888.7 C973.4,1895.6 981.5,1898.9 988.4,1906.2 C995.3,1913.5 1003.0,1924.4 1010.3,1932.4 C1017.6,1940.4 1024.2,1947.4 1032.2,1954.3 C1040.2,1961.2 1051.5,1967.4 1058.4,1974.0 C1065.3,1980.6 1069.0,1986.8 1073.7,1993.7 C1078.4,2000.6 1082.1,2008.2 1086.8,2015.5 C1091.5,2022.8 1096.6,2029.4 1102.1,2037.4 C1107.6,2045.4 1112.8,2056.1 1120.0,2063.4 C1127.2,2070.7 1138.8,2073.5 1145.6,2081.2 C1152.4,2088.8 1156.3,2101.7 1161.0,2109.3 C1165.7,2117.0 1169.9,2119.4 1173.7,2127.1 C1177.5,2134.8 1180.1,2147.1 1183.9,2155.2 C1187.7,2163.3 1189.8,2166.5 1196.6,2175.6 C1203.4,2184.7 1215.2,2200.2 1225.0,2210.0 C1234.8,2219.8 1247.7,2226.9 1255.3,2234.3 C1262.9,2241.8 1265.9,2247.0 1270.6,2254.7 C1275.3,2262.3 1278.3,2273.4 1283.4,2280.2 C1288.5,2287.0 1295.9,2292.2 1301.2,2295.5 C1306.5,2298.8 1310.4,2299.6 1315.0,2300.0 C1319.6,2300.4 1326.7,2298.3 1329.0,2298.0" fill="none" stroke="#06e406" stroke-width="5" stroke-dasharray="20,17"/>
<path d="M137.2,2156.3 C140.9,2154.6 153.2,2146.7 159.7,2146.0 C166.2,2145.3 170.6,2149.1 176.0,2152.2 C181.4,2155.3 185.5,2159.7 192.3,2164.5 C199.1,2169.3 207.6,2176.4 216.8,2180.8 C226.0,2185.2 239.6,2190.7 247.4,2191.0 C255.2,2191.3 258.4,2187.7 263.8,2182.9 C269.2,2178.1 274.2,2165.8 280.0,2162.4 C285.8,2159.0 291.7,2162.4 298.5,2162.4 C305.3,2162.4 314.2,2161.0 321.0,2162.4 C327.8,2163.8 332.9,2166.2 339.3,2170.6 C345.8,2175.0 354.7,2184.5 359.7,2189.0 C364.7,2193.5 366.3,2195.8 369.3,2197.6 C372.3,2199.4 373.6,2200.6 377.5,2200.0 C381.4,2199.4 387.4,2196.0 392.7,2194.1 C397.9,2192.2 404.1,2188.7 409.0,2188.3 C413.9,2187.9 417.3,2189.5 421.8,2191.8 C426.3,2194.1 430.9,2199.8 435.8,2202.3 C440.7,2204.8 446.1,2207.4 451.0,2207.0 C455.9,2206.6 461.3,2204.1 465.0,2200.0 C468.7,2195.9 470.2,2188.8 473.1,2182.4 C476.0,2176.0 478.9,2167.5 482.4,2161.5 C485.9,2155.5 491.0,2149.6 494.1,2146.3 C497.2,2143.0 498.2,2140.8 501.1,2141.6 C504.0,2142.4 507.3,2142.4 511.6,2151.0 C515.9,2159.6 522.4,2179.9 527.0,2193.0 C531.6,2206.1 535.8,2221.6 539.2,2229.8 C542.6,2238.0 544.2,2241.0 547.3,2242.0 C550.4,2243.0 554.2,2242.4 557.6,2236.0 C561.0,2229.6 563.7,2219.0 567.8,2203.3 C571.9,2187.6 577.6,2158.3 582.0,2142.0 C586.4,2125.7 589.5,2114.5 594.3,2105.3 C599.1,2096.1 605.1,2089.1 610.6,2087.0 C616.1,2084.9 621.9,2091.0 627.0,2093.0 C632.1,2095.0 636.5,2100.2 641.2,2099.2 C646.0,2098.2 650.7,2094.2 655.5,2087.0 C660.3,2079.8 665.4,2063.8 669.8,2056.3 C674.2,2048.8 677.6,2042.0 682.0,2042.0 C686.4,2042.0 691.9,2050.5 696.3,2056.3 C700.7,2062.1 704.2,2070.9 708.6,2076.7 C713.0,2082.5 718.3,2090.8 722.9,2091.0 C727.5,2091.2 731.7,2083.6 736.3,2078.0 C740.9,2072.4 745.8,2063.0 750.6,2057.6 C755.4,2052.2 759.9,2046.0 765.0,2045.3 C770.1,2044.6 775.8,2048.7 781.2,2053.5 C786.6,2058.3 792.2,2065.1 797.6,2073.9 C803.0,2082.7 808.5,2097.3 813.9,2106.5 C819.3,2115.7 825.5,2124.6 830.2,2129.0 C835.0,2133.4 837.0,2134.4 842.4,2133.0 C847.8,2131.6 856.1,2121.1 862.9,2120.8 C869.7,2120.5 876.5,2126.9 883.3,2131.0 C890.1,2135.1 896.2,2142.2 903.7,2145.3 C911.2,2148.4 921.4,2146.3 928.2,2149.4 C935.0,2152.5 937.7,2157.9 944.5,2163.7 C951.3,2169.5 961.4,2181.2 969.0,2184.0 C976.6,2186.8 982.2,2182.5 990.0,2180.7 C997.8,2178.9 1007.8,2175.6 1015.5,2173.0 C1023.2,2170.4 1029.6,2170.9 1036.0,2165.4 C1042.4,2159.9 1047.4,2145.9 1053.8,2140.0 C1060.2,2134.1 1067.0,2128.9 1074.2,2129.7 C1081.4,2130.5 1088.9,2140.1 1097.0,2145.0 C1105.1,2149.9 1112.9,2157.3 1122.7,2159.0 C1132.5,2160.7 1145.6,2157.5 1155.8,2155.2 C1166.0,2152.9 1175.0,2148.2 1183.9,2145.0 C1192.8,2141.8 1200.9,2136.0 1209.4,2136.0 C1217.9,2136.0 1224.7,2143.9 1234.9,2145.0 C1245.1,2146.1 1259.5,2142.4 1270.6,2142.4 C1281.6,2142.4 1291.4,2142.2 1301.2,2145.0 C1311.0,2147.8 1324.6,2156.7 1329.3,2159.0" fill="none" stroke="#000000" stroke-width="3.2"/>
<path d="M137.2,2166.5 C141.3,2164.1 155.2,2153.9 161.7,2152.2 C168.2,2150.5 170.9,2151.9 176.0,2156.3 C181.1,2160.7 186.5,2170.3 192.3,2178.8 C198.1,2187.3 204.2,2200.2 210.7,2207.3 C217.2,2214.4 224.3,2222.6 231.1,2221.6 C237.9,2220.6 245.4,2212.1 251.5,2201.2 C257.6,2190.3 262.4,2169.2 267.9,2156.3 C273.3,2143.4 279.4,2130.1 284.2,2123.7 C288.9,2117.2 291.6,2116.6 296.4,2117.6 C301.2,2118.6 307.4,2123.0 312.8,2129.8 C318.2,2136.6 323.6,2150.9 329.0,2158.4 C334.4,2165.9 340.2,2171.7 345.4,2174.7 C350.6,2177.7 355.6,2178.6 360.0,2176.6 C364.4,2174.6 367.8,2167.6 371.7,2162.6 C375.6,2157.6 379.0,2151.0 383.3,2146.3 C387.6,2141.6 393.0,2135.8 397.3,2134.6 C401.6,2133.4 405.1,2136.2 409.0,2139.3 C412.9,2142.4 416.7,2147.9 420.6,2153.3 C424.5,2158.8 428.0,2167.9 432.3,2172.0 C436.6,2176.1 441.8,2177.8 446.3,2177.8 C450.8,2177.8 455.0,2175.1 459.1,2172.0 C463.2,2168.9 466.9,2164.5 470.8,2159.1 C474.7,2153.7 478.5,2146.1 482.4,2139.3 C486.3,2132.5 490.2,2123.9 494.1,2118.3 C498.0,2112.7 502.3,2108.6 505.8,2105.5 C509.3,2102.4 510.9,2099.4 515.1,2099.7 C519.3,2100.0 526.0,2103.0 531.0,2107.3 C536.0,2111.6 540.2,2119.2 545.3,2125.7 C550.4,2132.1 556.8,2141.6 561.6,2146.0 C566.4,2150.4 570.2,2152.9 573.9,2152.2 C577.6,2151.5 580.6,2149.5 584.0,2142.0 C587.4,2134.5 590.5,2120.9 594.3,2107.3 C598.0,2093.7 602.1,2077.5 606.5,2060.4 C610.9,2043.3 615.6,2022.1 620.6,2004.8 C625.6,1987.5 631.9,1968.1 636.8,1956.5 C641.7,1944.9 645.1,1940.1 650.0,1935.0 C654.9,1929.9 661.0,1926.5 666.0,1926.0 C671.0,1925.5 675.2,1927.6 680.0,1932.0 C684.8,1936.4 690.0,1946.8 695.0,1952.4 C700.0,1958.0 705.2,1966.3 710.3,1965.6 C715.4,1964.9 720.1,1957.5 725.6,1948.0 C731.1,1938.5 735.8,1918.9 743.1,1908.7 C750.4,1898.5 761.3,1889.0 769.3,1886.8 C777.3,1884.6 783.2,1890.5 791.2,1895.6 C799.2,1900.7 808.6,1911.2 817.4,1917.4 C826.1,1923.6 836.4,1926.6 843.7,1932.8 C851.0,1939.0 855.4,1943.3 861.2,1954.6 C867.0,1965.9 872.9,1989.6 878.7,2000.5 C884.5,2011.4 888.9,2018.0 896.2,2020.2 C903.5,2022.4 915.5,2012.2 922.4,2013.7 C929.3,2015.2 932.6,2021.3 937.7,2029.0 C942.8,2036.7 947.5,2048.1 953.0,2060.0 C958.5,2071.9 964.8,2092.6 971.0,2100.4 C977.2,2108.2 983.4,2106.1 990.0,2106.7 C996.6,2107.3 1001.9,2102.5 1010.4,2104.2 C1018.9,2105.9 1030.4,2111.9 1041.0,2117.0 C1051.6,2122.1 1063.6,2128.4 1074.2,2134.8 C1084.8,2141.2 1095.5,2147.5 1104.8,2155.2 C1114.1,2162.8 1122.2,2173.9 1130.3,2180.7 C1138.4,2187.5 1143.5,2196.8 1153.3,2196.0 C1163.1,2195.2 1178.8,2175.6 1189.0,2175.6 C1199.2,2175.6 1205.2,2187.1 1214.5,2196.0 C1223.8,2204.9 1236.5,2225.8 1245.0,2229.2 C1253.5,2232.6 1257.0,2223.6 1265.5,2216.4 C1274.0,2209.2 1285.4,2193.0 1296.0,2185.8 C1306.6,2178.6 1323.8,2175.1 1329.3,2173.0" fill="none" stroke="#d80404" stroke-width="3.2"/>
<path d="M136.0,2168.6 C137.6,2170.3 141.5,2176.2 145.4,2178.8 C149.3,2181.4 154.9,2184.6 159.7,2183.9 C164.5,2183.2 169.6,2179.3 174.0,2174.7 C178.4,2170.1 181.4,2161.4 186.2,2156.3 C191.0,2151.2 197.5,2145.7 202.6,2144.0 C207.7,2142.3 211.0,2143.6 216.8,2146.0 C222.6,2148.4 230.4,2154.3 237.2,2158.4 C244.0,2162.5 250.9,2166.2 257.7,2170.6 C264.5,2175.0 271.9,2181.3 278.0,2185.0 C284.1,2188.7 289.3,2194.0 294.4,2193.0 C299.5,2192.0 302.9,2184.2 308.7,2178.8 C314.5,2173.4 322.2,2163.1 329.0,2160.4 C335.8,2157.7 342.7,2160.4 349.5,2162.4 C356.3,2164.4 363.2,2168.9 370.0,2172.7 C376.8,2176.5 384.2,2181.8 390.3,2185.0 C396.4,2188.2 401.9,2191.2 406.6,2191.8 C411.3,2192.4 414.4,2190.8 418.3,2188.3 C422.2,2185.8 425.1,2182.4 430.0,2176.6 C434.9,2170.8 441.7,2160.7 447.5,2153.3 C453.3,2145.9 459.2,2138.5 465.0,2132.3 C470.8,2126.1 476.5,2120.5 482.4,2116.0 C488.3,2111.5 494.1,2107.3 500.4,2105.3 C506.7,2103.3 513.4,2104.7 520.0,2104.0 C526.6,2103.3 533.7,2101.8 540.0,2101.0 C546.3,2100.2 552.6,2098.1 557.6,2099.2 C562.6,2100.2 565.7,2102.5 569.8,2107.3 C573.9,2112.1 577.6,2120.3 582.0,2127.8 C586.4,2135.3 591.5,2144.4 596.3,2152.2 C601.1,2160.0 606.9,2169.9 610.6,2174.7 C614.4,2179.5 615.4,2180.8 618.8,2180.8 C622.2,2180.8 626.9,2179.1 631.0,2174.7 C635.1,2170.3 639.5,2163.8 643.3,2154.3 C647.0,2144.8 650.1,2131.6 653.5,2117.6 C656.9,2103.6 660.6,2083.9 663.7,2070.6 C666.8,2057.3 667.9,2057.0 672.0,2038.0 C676.1,2019.0 682.0,1988.5 688.4,1956.8 C694.8,1925.0 704.1,1876.7 710.3,1847.5 C716.5,1818.3 720.6,1806.7 725.6,1781.9 C730.6,1757.1 735.7,1723.5 740.3,1698.7 C744.9,1673.9 749.0,1652.0 753.4,1633.0 C757.8,1614.0 761.8,1598.5 766.5,1585.0 C771.2,1571.5 776.3,1561.0 781.8,1552.2 C787.3,1543.5 793.5,1539.8 799.3,1532.5 C805.1,1525.2 811.7,1514.1 816.8,1508.4 C821.9,1502.8 825.6,1499.0 830.0,1498.6 C834.4,1498.2 838.6,1501.3 843.0,1506.2 C847.4,1511.1 851.5,1520.0 856.2,1528.0 C861.0,1536.0 865.7,1547.0 871.5,1554.3 C877.3,1561.6 885.0,1565.2 891.2,1571.8 C897.4,1578.4 903.6,1584.2 908.7,1593.7 C913.8,1603.2 917.4,1616.3 921.8,1628.7 C926.2,1641.1 930.6,1654.9 935.0,1668.0 C939.4,1681.1 943.3,1695.7 948.0,1707.4 C952.7,1719.1 959.1,1729.7 963.3,1738.0 C967.5,1746.3 968.2,1751.0 973.1,1757.5 C978.0,1764.0 985.9,1770.3 992.8,1777.2 C999.7,1784.1 1008.1,1790.6 1014.7,1799.0 C1021.3,1807.4 1026.7,1817.7 1032.2,1827.5 C1037.7,1837.3 1042.4,1847.1 1047.5,1858.0 C1052.6,1868.9 1057.7,1880.6 1062.8,1893.0 C1067.9,1905.4 1073.3,1919.6 1078.0,1932.4 C1082.7,1945.2 1086.1,1958.7 1091.2,1969.6 C1096.3,1980.5 1102.9,1990.0 1108.7,1998.0 C1114.5,2006.0 1118.4,2008.9 1126.2,2017.7 C1134.0,2026.5 1146.2,2040.0 1155.8,2050.6 C1165.4,2061.2 1175.4,2070.1 1183.9,2081.2 C1192.4,2092.3 1200.0,2107.2 1206.8,2117.0 C1213.6,2126.8 1218.3,2135.8 1224.7,2140.0 C1231.1,2144.2 1237.3,2143.7 1245.0,2142.4 C1252.7,2141.1 1262.5,2134.3 1270.6,2132.2 C1278.7,2130.1 1287.2,2127.1 1293.6,2129.7 C1300.0,2132.3 1304.2,2139.1 1308.9,2147.6 C1313.6,2156.1 1318.2,2170.5 1321.6,2180.7 C1325.0,2190.9 1328.0,2204.1 1329.3,2208.8" fill="none" stroke="#06e406" stroke-width="3.2"/>
<rect x="724" y="1485" width="248" height="877" fill="#bbbbbb" fill-opacity="0.45"/>
<text x="644" y="1370.9" font-family="Liberation Sans" font-weight="bold" font-size="30" fill="#111" textLength="174.8" lengthAdjust="spacingAndGlyphs">Mindfulness</text>
<text x="650" y="2462.9" font-family="Liberation Sans" font-size="42" fill="#000" textLength="190.5" lengthAdjust="spacingAndGlyphs">Time (ms)</text>
<text transform="translate(71.25,2039) rotate(-90)" font-family="Liberation Sans" font-size="42" fill="#000" textLength="284" lengthAdjust="spacingAndGlyphs">Amplitude (µV)</text>
</svg></body></html>
